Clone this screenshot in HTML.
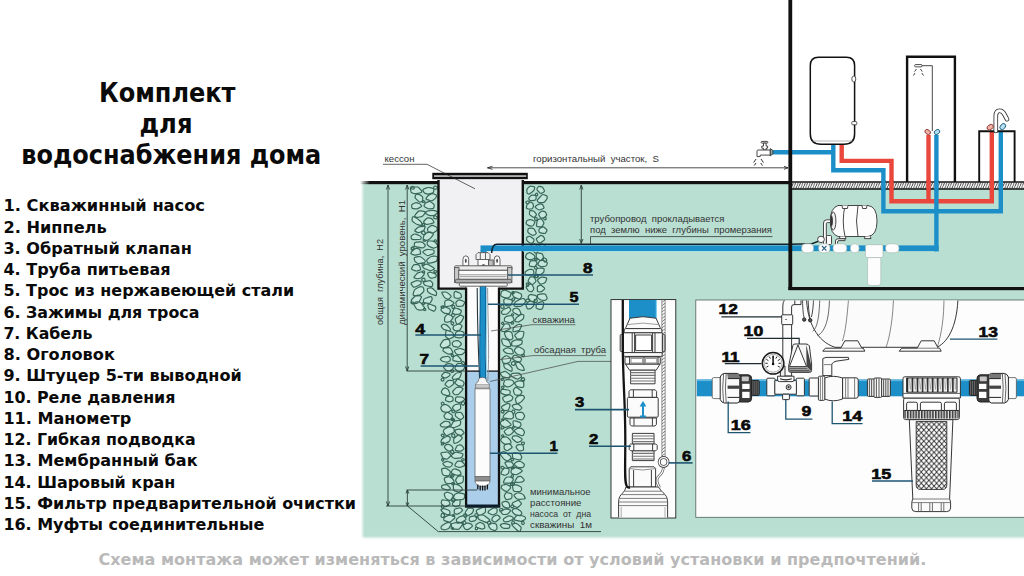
<!DOCTYPE html>
<html lang="ru"><head><meta charset="utf-8"><title>Комплект для водоснабжения дома</title>
<style>html,body{margin:0;padding:0;background:#fff;overflow:hidden}svg{display:block}</style></head>
<body>
<svg width="1024" height="576" viewBox="0 0 1024 576">
<rect width="1024" height="576" fill="#fff"/>
<!-- b_bg -->
<defs>
<filter id="blur2" x="-5%" y="-5%" width="110%" height="110%"><feGaussianBlur stdDeviation="1.3"/></filter>
<filter id="blur1" x="-5%" y="-50%" width="110%" height="200%"><feGaussianBlur stdDeviation="0.5"/></filter>
<clipPath id="gclip"><rect x="340" y="183" width="700" height="400"/></clipPath>
<pattern id="hatch" width="2.4" height="6" patternUnits="userSpaceOnUse">
<rect width="2.4" height="6" fill="#fff"/><path d="M-2.4 6L0 0M0 6L2.4 0M2.4 6L4.8 0M-1.2 9L1.2 3M1.2 3L3.6 -3" stroke="#333" stroke-width="0.65"/></pattern>
<pattern id="hatch2" width="4" height="3.2" patternUnits="userSpaceOnUse">
<rect width="4" height="3.2" fill="#fff"/><path d="M-1 4.2L5 -1M-1 1L1.5 -1.2M-1 7.4L5 2.2" stroke="#555" stroke-width="0.8"/></pattern>
<linearGradient id="lfade" x1="0" x2="1"><stop offset="0" stop-color="#111" stop-opacity="0"/><stop offset="1" stop-color="#111"/></linearGradient>
<pattern id="mesh" width="5.1" height="5.6" patternUnits="userSpaceOnUse" patternTransform="translate(916.2 421.6)">
<rect width="5.1" height="5.6" fill="#fff"/><path d="M0 0L5.1 5.6M5.1 0L0 5.6" stroke="#2e2e2e" stroke-width="0.85"/></pattern>
<pattern id="ribs" width="2.8" height="9" patternUnits="userSpaceOnUse" patternTransform="translate(904.2 410)"><rect width="2.8" height="9" fill="#e4e4e4"/><path d="M0.8 0.6V8.6" stroke="#222" stroke-width="1.4"/><path d="M0 0.5H2.8" stroke="#222" stroke-width="1"/></pattern>
<pattern id="ribs2" width="5.04" height="15" patternUnits="userSpaceOnUse" patternTransform="translate(906.6 378)"><rect width="5.04" height="15" fill="#f2f2f2"/><path d="M0.9 0V14.2" stroke="#1a1a1a" stroke-width="1.5"/><path d="M2.6 1L3.7 11.5L4.6 1" stroke="#8a8a8a" stroke-width="0.6" fill="none"/></pattern>
</defs>
<g clip-path="url(#gclip)"><rect x="362.6" y="170" width="680" height="367.6" fill="#b9dfd2" filter="url(#blur2)"/></g>
<rect x="360" y="181" width="10" height="3.2" fill="url(#lfade)"/>
<rect x="369.5" y="181" width="70" height="3.2" fill="#111"/>
<rect x="522" y="181" width="267" height="3.2" fill="#111"/>
<!-- b_well -->
<path d="M410.45 188.68Q410.23 187.29 411.12 187.22L412.76 187.1Q413.66 187.03 414.83 187.02L417.01 187Q418.18 186.99 419.22 188.13L421.14 190.24Q422.18 191.39 421.91 191.73L421.4 192.36Q421.13 192.7 419.48 192.97L416.44 193.47Q414.8 193.74 413.83 193.46L412.06 192.93Q411.1 192.64 410.87 191.25ZM412 186.4Q412.45 186.11 412.99 186.51L413.97 187.25Q414.5 187.66 414.33 188.03L414 188.72Q413.83 189.09 413.2 189.06L412.04 188.99Q411.41 188.95 411.23 188.51L410.88 187.68Q410.7 187.23 411.15 186.94ZM432.33 188.06Q433.84 188.32 433.78 189.42L433.68 191.47Q433.62 192.57 432.18 193L429.5 193.8Q428.05 194.23 427.07 193.93L425.26 193.38Q424.28 193.08 423.86 192.15L423.09 190.41Q422.68 189.48 424.07 188.92L426.63 187.88Q428.02 187.32 429.53 187.58ZM434.24 186.39Q434.47 185.94 434.85 185.98L435.56 186.04Q435.94 186.08 436.38 186.4L437.19 186.99Q437.62 187.31 437.35 187.81L436.84 188.74Q436.57 189.25 435.81 189.2L434.42 189.11Q433.67 189.07 433.64 188.7L433.61 188.03Q433.58 187.66 433.82 187.22ZM422.5 200.25Q422.35 201.41 421.65 201.63L420.36 202.05Q419.66 202.27 418.39 201.07L416.04 198.85Q414.77 197.65 415.1 196.75L415.7 195.09Q416.03 194.19 416.87 194.23L418.42 194.3Q419.26 194.34 420.21 195.02L421.98 196.28Q422.94 196.96 422.78 198.12ZM422.57 202.27Q422.44 202.19 422.42 201.85L422.38 201.23Q422.36 200.9 422.54 200.82L422.89 200.69Q423.07 200.61 423.39 200.68L423.97 200.8Q424.29 200.86 424.46 200.99L424.79 201.23Q424.96 201.36 424.89 201.56L424.76 201.93Q424.69 202.13 424.24 202.23L423.4 202.41Q422.95 202.52 422.82 202.43ZM427.09 199.57Q425.42 199.03 426.15 198.08L427.48 196.32Q428.2 195.37 429.23 194.88L431.14 193.98Q432.18 193.49 433.31 193.84L435.4 194.48Q436.53 194.83 436.42 195.6L436.21 197.02Q436.1 197.79 434.99 198.64L432.95 200.23Q431.84 201.08 430.17 200.55ZM411.65 205.59Q411.58 204.63 412.73 204.07L414.87 203.05Q416.02 202.5 417.04 202.87L418.92 203.54Q419.93 203.91 420.46 204.52L421.45 205.65Q421.98 206.26 420.66 207L418.22 208.36Q416.9 209.1 415.59 208.9L413.17 208.54Q411.86 208.34 411.79 207.38ZM429.83 208.85Q428.45 208.98 427.21 208.26L424.91 206.95Q423.67 206.23 424.13 205.32L424.98 203.64Q425.44 202.72 426.65 202.34L428.89 201.64Q430.1 201.25 431.2 202.1L433.23 203.66Q434.34 204.5 434.19 205.54L433.91 207.45Q433.76 208.49 432.38 208.61ZM418.56 217.23Q417.02 217.59 416.3 217.2L414.96 216.49Q414.24 216.1 415.44 214.66L417.65 212Q418.85 210.55 420.64 210.82L423.96 211.32Q425.75 211.59 425.03 212.79L423.69 215Q422.96 216.2 421.42 216.56ZM426.28 211.64Q426.56 211 428.36 210.82L431.68 210.48Q433.47 210.3 434.42 210.58L436.18 211.09Q437.13 211.37 437.21 211.85L437.36 212.72Q437.44 213.2 436.46 213.84L434.67 215.02Q433.69 215.66 432.52 215.64L430.36 215.61Q429.19 215.6 428.23 215.04L426.44 214.02Q425.48 213.47 425.76 212.83ZM420.17 220.98Q421.78 222.26 421.81 223.16L421.85 224.82Q421.87 225.71 420.41 225.32L417.72 224.61Q416.27 224.22 415.13 223.37L413.03 221.81Q411.89 220.96 412.03 219.83L412.3 217.73Q412.44 216.59 413.25 216.78L414.75 217.14Q415.56 217.33 417.18 218.61ZM424.21 225.83Q424.09 225.89 423.69 225.91L422.95 225.95Q422.55 225.97 422.47 225.76L422.34 225.37Q422.27 225.16 422.41 224.78L422.65 224.1Q422.78 223.73 422.96 223.63L423.29 223.45Q423.47 223.36 423.76 223.58L424.29 224Q424.58 224.23 424.57 224.61L424.56 225.31Q424.56 225.68 424.43 225.74ZM428.23 224.22Q426.06 224.71 425.32 223.95L423.96 222.56Q423.22 221.8 424.32 220.72L426.34 218.71Q427.43 217.63 428.62 217.91L430.81 218.43Q432 218.71 432.62 219.78L433.78 221.76Q434.4 222.84 432.23 223.32ZM433.7 217.41Q433.63 217 433.97 216.59L434.61 215.82Q434.96 215.41 435.59 215.89L436.74 216.78Q437.37 217.26 437.17 217.7L436.8 218.52Q436.6 218.96 435.9 218.86L434.6 218.69Q433.9 218.59 433.83 218.18ZM415.33 231.37Q414.19 230.84 415.35 229.76L417.49 227.77Q418.65 226.69 420.44 226.56L423.75 226.34Q425.54 226.22 425.1 227.34L424.29 229.41Q423.85 230.53 422.48 231.15L419.94 232.29Q418.57 232.91 417.43 232.37ZM430.6 225.94Q431.7 225.08 433.01 225.57L435.43 226.5Q436.74 227 436.9 227.85L437.18 229.42Q437.34 230.28 436.15 231.07L433.95 232.54Q432.76 233.33 431.49 232.94L429.16 232.2Q427.89 231.8 427.78 230.91L427.57 229.27Q427.46 228.38 428.56 227.52ZM411.09 237.08Q410.85 236.19 411.88 235.53L413.77 234.3Q414.8 233.64 416.45 234.37L419.51 235.73Q421.16 236.46 421.12 237.24L421.05 238.69Q421.01 239.47 418.61 239.51L414.17 239.58Q411.77 239.61 411.53 238.73ZM425.29 233.06Q425.67 233.83 425.3 234.23L424.63 234.96Q424.26 235.36 423.49 234.79L422.07 233.73Q421.31 233.16 421.54 232.76L421.98 232.01Q422.22 231.6 422.74 231.41L423.7 231.06Q424.22 230.87 424.6 231.64ZM432.83 233.58Q433.73 234.26 432.76 235.43L430.97 237.57Q430 238.73 429.24 239.17L427.84 239.99Q427.08 240.43 426 240.28L424.01 240.01Q422.94 239.86 423.18 238.7L423.62 236.57Q423.86 235.41 424.15 234.96L424.69 234.11Q424.99 233.66 426.35 233.13L428.88 232.15Q430.25 231.62 431.15 232.31ZM425.49 241.01Q425.43 241.22 425.06 241.27L424.38 241.36Q424.01 241.41 423.8 241.19L423.41 240.8Q423.2 240.59 423.26 240.4L423.37 240.04Q423.44 239.84 423.74 239.77L424.31 239.64Q424.62 239.57 424.89 239.79L425.38 240.19Q425.64 240.41 425.59 240.62ZM416.5 246.82Q414.13 246.37 414.25 245.31L414.45 243.35Q414.56 242.29 416.49 242.14L420.05 241.85Q421.98 241.7 422.94 242.68L424.72 244.48Q425.68 245.46 425.05 246.15L423.88 247.42Q423.25 248.11 420.88 247.66ZM411.61 248.92Q411.23 248.68 411.25 248.37L411.29 247.81Q411.31 247.5 411.81 247.38L412.73 247.15Q413.23 247.03 413.44 247.09L413.82 247.2Q414.02 247.26 413.94 247.72L413.8 248.55Q413.72 249 413.45 249.16L412.96 249.45Q412.69 249.61 412.31 249.36ZM437.48 245.43Q438.18 246.53 437.03 246.97L434.91 247.79Q433.75 248.24 432.69 247.87L430.73 247.18Q429.67 246.81 429.02 246.24L427.83 245.18Q427.18 244.61 427.22 243.67L427.28 241.94Q427.31 241 428.8 241.01L431.55 241.02Q433.03 241.03 433.67 241.36L434.84 241.96Q435.48 242.29 436.18 243.39ZM434.34 241.19Q434.03 240.89 434.2 240.61L434.53 240.1Q434.7 239.82 435.05 239.82L435.7 239.81Q436.06 239.81 436.2 240.02L436.45 240.4Q436.59 240.6 436.48 240.95L436.27 241.61Q436.16 241.96 435.92 241.98L435.46 242.03Q435.21 242.06 434.91 241.76ZM416.5 254.92Q414.98 255.27 413.85 254.85L411.75 254.07Q410.61 253.65 410.85 253.13L411.29 252.18Q411.53 251.66 412.62 250.73L414.63 249Q415.71 248.07 416.82 248.38L418.86 248.94Q419.97 249.25 420.08 250.09L420.28 251.64Q420.38 252.48 420.49 252.85L420.7 253.53Q420.81 253.9 419.29 254.26ZM413.92 247.91Q414.07 248.35 413.94 248.73L413.7 249.44Q413.57 249.83 413.34 250.06L412.93 250.5Q412.71 250.73 412.34 250.51L411.65 250.09Q411.28 249.86 411.29 249.42L411.3 248.6Q411.31 248.15 411.52 247.81L411.92 247.18Q412.13 246.84 412.48 246.79L413.12 246.71Q413.47 246.66 413.63 247.1ZM434.1 252.52Q434.1 253.46 432.35 254.11L429.13 255.3Q427.38 255.95 426.04 254.88L423.58 252.9Q422.24 251.83 423.36 251.19L425.42 250Q426.54 249.36 428.51 249.49L432.14 249.73Q434.1 249.86 434.1 250.79ZM423.99 259.41Q425.36 260.54 425.28 261.06L425.14 262.03Q425.06 262.55 423.3 262.87L420.04 263.45Q418.28 263.77 417.37 263.18L415.69 262.1Q414.79 261.51 414.6 260.47L414.26 258.55Q414.08 257.51 415.64 257.17L418.53 256.56Q420.09 256.22 421.46 257.34ZM433.37 262.4Q432.25 262.78 431.12 262.9L429.05 263.13Q427.92 263.25 427.54 262.46L426.82 260.99Q426.43 260.2 427.48 259.28L429.41 257.59Q430.46 256.67 431.64 256.48L433.82 256.14Q435 255.96 435.73 256.25L437.09 256.79Q437.82 257.08 437.5 258.18L436.91 260.21Q436.59 261.31 435.46 261.69ZM417.44 270.81Q416.19 271.21 414.87 270.68L412.43 269.72Q411.11 269.2 411.77 268.01L412.99 265.82Q413.66 264.64 415.07 264.64L417.67 264.63Q419.08 264.63 419.58 265.95L420.49 268.38Q420.99 269.7 419.74 270.09ZM423.65 265.54Q423.38 265.69 423.03 265.51L422.38 265.18Q422.03 265.01 422.11 264.6L422.26 263.85Q422.35 263.45 422.75 263.37L423.49 263.24Q423.89 263.17 424.13 263.42L424.58 263.88Q424.82 264.13 424.72 264.39L424.53 264.87Q424.42 265.13 424.15 265.28ZM433.16 267.5Q435.15 268.76 433.97 269.31L431.8 270.33Q430.63 270.88 428.88 270.23L425.66 269.04Q423.92 268.4 423.36 267.56L422.32 266.02Q421.75 265.18 423.25 264.85L426.02 264.25Q427.52 263.92 429.5 265.18ZM434.07 272.18Q433.68 271.86 433.9 271.51L434.3 270.86Q434.51 270.5 435.1 270.6L436.19 270.79Q436.78 270.88 436.67 271.31L436.48 272.08Q436.38 272.51 436.06 272.66L435.47 272.94Q435.16 273.1 434.77 272.78ZM416.48 274.17Q417.52 272.96 418.68 272.63L420.83 272.01Q421.99 271.68 422.71 272.17L424.03 273.07Q424.75 273.56 423.89 274.72L422.31 276.85Q421.45 278.01 420.31 278.23L418.2 278.64Q417.06 278.86 416.13 278.53L414.42 277.93Q413.5 277.61 414.55 276.4ZM422.1 272.21Q421.93 272.02 422.12 271.75L422.48 271.24Q422.67 270.97 423.12 270.97L423.97 270.97Q424.42 270.97 424.49 271.28L424.63 271.85Q424.7 272.16 424.62 272.37L424.48 272.76Q424.4 272.96 423.93 272.91L423.07 272.81Q422.6 272.75 422.43 272.56ZM434.79 273.78Q436.58 274.45 436.37 275.17L435.98 276.51Q435.77 277.24 434.73 277.51L432.81 278.02Q431.77 278.3 431.16 278.1L430.03 277.73Q429.41 277.52 428.87 276.46L427.87 274.48Q427.32 273.41 427.94 273.02L429.09 272.29Q429.7 271.89 431.49 272.56ZM420.05 281.12Q421.36 281.33 421.19 282.12L420.88 283.58Q420.71 284.37 418.95 285.22L415.7 286.77Q413.93 287.61 413.04 286.51L411.39 284.47Q410.5 283.37 412.01 282.62L414.8 281.24Q416.31 280.5 417.62 280.72ZM423.95 278.22Q424.36 278.15 424.6 278.6L425.05 279.43Q425.29 279.88 425.09 280.31L424.74 281.1Q424.54 281.53 423.93 281.43L422.81 281.26Q422.2 281.16 422.05 280.69L421.77 279.82Q421.62 279.35 421.92 279.12L422.47 278.68Q422.77 278.44 423.18 278.36ZM432.25 282.56Q432.97 283.33 432.73 284.26L432.3 285.98Q432.06 286.92 430.14 286.52L426.6 285.78Q424.68 285.39 424.25 284.54L423.45 282.99Q423.02 282.14 424.89 281.68L428.33 280.84Q430.19 280.38 430.91 281.15ZM414.42 295.6Q412.83 295.5 413.24 293.95L413.99 291.09Q414.4 289.54 415.93 288.76L418.75 287.31Q420.28 286.53 421.07 286.69L422.54 286.98Q423.34 287.14 423.54 288.21L423.91 290.2Q424.11 291.27 422.77 292.47L420.29 294.69Q418.95 295.89 417.36 295.79ZM430.12 287.88Q431.15 287.69 431.61 287.93L432.44 288.38Q432.9 288.63 433.87 289.56L435.67 291.28Q436.64 292.21 436.56 293.17L436.4 294.95Q436.31 295.91 434.93 295.42L432.37 294.51Q430.99 294.02 430.1 293.41L428.46 292.3Q427.58 291.7 427.47 290.85L427.29 289.29Q427.18 288.44 428.22 288.24ZM414.17 296.97Q415.1 296.02 415.81 295.74L417.13 295.22Q417.85 294.94 418.9 295.38L420.86 296.2Q421.92 296.64 421.14 298.07L419.7 300.71Q418.92 302.14 418.25 302.56L417.03 303.34Q416.37 303.77 414.94 303.68L412.3 303.5Q410.87 303.41 411.04 302.44L411.35 300.64Q411.53 299.67 412.45 298.72ZM411.63 302.32Q411.66 301.98 412.12 302.04L412.99 302.13Q413.46 302.19 413.58 302.49L413.82 303.04Q413.95 303.34 413.5 303.53L412.67 303.88Q412.22 304.07 412.05 303.86L411.73 303.48Q411.55 303.27 411.58 302.94ZM425.06 302.93Q423.38 302.68 423.45 301.69L423.57 299.87Q423.64 298.89 425.64 298.2L429.33 296.93Q431.34 296.24 431.61 297.02L432.12 298.47Q432.4 299.25 431.74 300.39L430.52 302.5Q429.86 303.65 428.18 303.39ZM423.94 306.8Q425.11 308.35 424.26 308.86L422.69 309.8Q421.84 310.31 420.58 310.14L418.24 309.85Q416.98 309.68 416.07 308.22L414.39 305.53Q413.47 304.07 414.12 303.44L415.3 302.29Q415.95 301.66 417.16 301.86L419.41 302.22Q420.62 302.41 421.79 303.95ZM423.45 304.33Q423.02 304.42 422.81 304.07L422.43 303.43Q422.22 303.08 422.51 302.85L423.06 302.42Q423.35 302.19 423.65 302.3L424.2 302.5Q424.49 302.61 424.53 302.99L424.61 303.69Q424.65 304.07 424.22 304.16ZM428.46 304.31Q428.75 303.95 430.54 304.54L433.84 305.64Q435.62 306.24 435.69 306.81L435.82 307.88Q435.9 308.45 435.47 309.24L434.7 310.68Q434.28 311.47 432.9 310.87L430.37 309.76Q429 309.16 428.64 308.17L427.97 306.35Q427.6 305.36 427.9 304.99ZM424.98 308.44Q425.36 308.43 425.5 308.85L425.77 309.63Q425.92 310.05 425.7 310.13L425.31 310.28Q425.1 310.36 424.82 310.42L424.31 310.53Q424.04 310.58 423.81 310.26L423.38 309.66Q423.15 309.34 423.34 309.11L423.7 308.7Q423.9 308.47 424.28 308.46ZM527.49 193.43Q526.92 193.11 526.89 192.09L526.85 190.2Q526.82 189.18 527.6 188.37L529.05 186.87Q529.83 186.06 531.16 186.24L533.6 186.56Q534.93 186.74 534.71 187.7L534.3 189.48Q534.07 190.45 532.79 191.46L530.41 193.33Q529.13 194.34 528.55 194.02ZM544.28 190.31Q544.87 191.44 543.79 192.08L541.79 193.26Q540.71 193.9 539.61 192.71L537.58 190.52Q536.48 189.33 537.06 188.51L538.12 187.01Q538.7 186.2 539.72 186.43L541.59 186.87Q542.6 187.1 543.19 188.23ZM531.42 200.56Q529.85 200.65 529.51 200.04L528.87 198.9Q528.53 198.29 529.29 197.46L530.69 195.94Q531.46 195.11 532.7 195.22L535 195.43Q536.24 195.54 536.15 196.78L535.98 199.07Q535.89 200.31 534.32 200.4ZM539.58 197.49Q540.49 196.44 541.07 195.87L542.15 194.81Q542.73 194.24 543.94 194.72L546.17 195.61Q547.38 196.09 547.28 196.83L547.1 198.19Q547.01 198.92 546.25 199.89L544.84 201.66Q544.08 202.63 542.69 202.62L540.13 202.6Q538.75 202.59 538.29 202.05L537.45 201.03Q537 200.49 537.91 199.43ZM537.43 193.68Q537.65 193.97 537.68 194.31L537.72 194.93Q537.74 195.27 537.52 195.41L537.1 195.66Q536.87 195.8 536.57 195.61L536.01 195.28Q535.71 195.09 535.62 194.81L535.45 194.27Q535.36 193.99 535.73 193.69L536.41 193.13Q536.77 192.84 537 193.13ZM533.41 205.16Q533.71 205.89 533.32 206.7L532.62 208.2Q532.23 209.01 531.18 209.02L529.22 209.03Q528.17 209.04 527.67 208.8L526.74 208.37Q526.24 208.13 526.47 207.05L526.89 205.05Q527.12 203.96 527.94 203.41L529.47 202.4Q530.3 201.85 530.89 202.17L531.98 202.77Q532.58 203.09 532.87 203.82ZM527.2 203.9Q526.85 203.9 526.54 203.48L525.97 202.7Q525.65 202.28 525.95 201.94L526.51 201.3Q526.81 200.96 527.39 201.04L528.47 201.18Q529.06 201.26 529.17 201.6L529.37 202.23Q529.49 202.57 529.15 202.92L528.53 203.56Q528.19 203.9 527.84 203.9ZM536.63 205.42Q537.27 204.86 538.01 204.6L539.38 204.11Q540.12 203.84 540.79 204.05L542.04 204.44Q542.72 204.65 543.12 205.51L543.85 207.1Q544.25 207.96 543.32 208.42L541.6 209.26Q540.67 209.71 540.08 209.75L539 209.81Q538.41 209.85 537.47 209.11L535.75 207.75Q534.82 207.01 535.45 206.45ZM529.55 211.55Q529.62 210.44 530.75 210.61L532.84 210.92Q533.97 211.08 534.69 212.01L536.01 213.71Q536.73 214.64 536.06 215.42L534.83 216.87Q534.17 217.65 532.92 216.89L530.62 215.48Q529.37 214.72 529.44 213.61ZM538.96 215.13Q538.35 214.02 539.24 213.19L540.89 211.67Q541.79 210.85 542.74 211.1L544.5 211.57Q545.46 211.82 545.83 212.75L546.52 214.47Q546.89 215.4 546.07 216.03L544.56 217.19Q543.74 217.82 542.95 217.94L541.5 218.17Q540.71 218.3 540.09 217.19ZM544.13 219.51Q543.85 219.32 543.8 218.97L543.68 218.32Q543.62 217.97 544.01 217.7L544.71 217.2Q545.09 216.93 545.3 217.14L545.68 217.52Q545.89 217.73 546.01 218.07L546.24 218.69Q546.36 219.02 545.99 219.3L545.29 219.79Q544.92 220.07 544.64 219.87ZM530.85 226.15Q530.07 226.24 529 225.62L527.03 224.48Q525.96 223.86 526.16 223L526.53 221.41Q526.74 220.54 527.81 220.23L529.8 219.67Q530.88 219.36 532.02 219.96L534.12 221.05Q535.25 221.65 534.69 222.75L533.64 224.79Q533.08 225.9 532.3 225.99ZM536.24 220.41Q535.92 220.64 535.61 220.35L535.04 219.8Q534.73 219.5 534.71 219.11L534.69 218.39Q534.68 218 535.01 217.84L535.63 217.52Q535.96 217.36 536.28 217.51L536.86 217.8Q537.17 217.95 537.17 218.42L537.15 219.28Q537.15 219.75 536.83 219.98ZM537.68 226.64Q536.26 226.49 536.56 224.71L537.1 221.44Q537.39 219.67 538.44 219.45L540.37 219.03Q541.42 218.81 542.14 219.86L543.47 221.81Q544.19 222.87 543.55 223.96L542.36 225.99Q541.71 227.09 540.3 226.93ZM531.12 228.21Q532.19 228.15 532.66 228.39L533.54 228.84Q534.02 229.09 534.67 230.17L535.88 232.19Q536.53 233.28 536.08 233.67L535.25 234.41Q534.8 234.81 534.21 234.99L533.12 235.32Q532.53 235.5 531.26 234.71L528.93 233.24Q527.67 232.44 527.77 231.39L527.97 229.45Q528.08 228.41 529.15 228.34ZM545.61 232.8Q545 233.72 543.46 233.39L540.62 232.79Q539.08 232.46 539.03 231.52L538.93 229.79Q538.88 228.86 540.05 228.25L542.22 227.12Q543.39 226.5 544.42 227.46L546.32 229.22Q547.35 230.17 546.74 231.09ZM531.05 243.22Q530.33 243.37 529.37 242.63L527.6 241.26Q526.64 240.52 526.65 239.63L526.67 237.99Q526.68 237.11 527.47 236.83L528.92 236.33Q529.7 236.05 530.9 236.94L533.1 238.58Q534.3 239.47 533.98 240.34L533.4 241.93Q533.08 242.79 532.37 242.94ZM542.77 236.1Q543.48 236.41 543.85 237.27L544.54 238.86Q544.91 239.72 543.69 240.59L541.43 242.17Q540.21 243.04 539.66 242.92L538.64 242.71Q538.09 242.59 537.55 241.61L536.55 239.81Q536.01 238.84 537.24 237.9L539.52 236.17Q540.75 235.24 541.46 235.54ZM530.56 246.29Q531.08 245.45 531.96 245L533.59 244.17Q534.47 243.73 535.06 244.23L536.13 245.16Q536.72 245.66 536.83 246.47L537.05 247.96Q537.17 248.77 536.62 249.21L535.62 250.02Q535.08 250.46 534.19 250.6L532.54 250.85Q531.65 250.99 530.98 250.4L529.74 249.3Q529.07 248.7 529.59 247.86ZM536.84 250Q537.21 250.17 537.22 250.88L537.24 252.17Q537.25 252.87 536.79 252.99L535.94 253.19Q535.49 253.3 535.1 252.89L534.38 252.13Q533.99 251.72 534.11 251.36L534.34 250.69Q534.46 250.33 534.81 250.11L535.44 249.71Q535.79 249.49 536.16 249.67ZM538.6 247.88Q537.72 246.76 538.76 245.97L540.68 244.5Q541.72 243.71 542.79 244.24L544.78 245.21Q545.85 245.74 545.85 246.98L545.85 249.27Q545.85 250.51 544.62 250.65L542.34 250.91Q541.11 251.05 540.23 249.93ZM534.75 257.52Q534.75 258.16 533.92 258.56L532.38 259.29Q531.54 259.69 530.61 259.66L528.87 259.59Q527.94 259.55 527.23 258.93L525.94 257.78Q525.24 257.16 525.64 256.23L526.38 254.53Q526.78 253.6 527.62 253.32L529.16 252.79Q529.99 252.5 531.22 253.33L533.5 254.87Q534.73 255.7 534.74 256.34ZM537.08 259.8Q537.17 260.07 536.78 260.22L536.07 260.48Q535.68 260.62 535.37 260.34L534.8 259.81Q534.49 259.52 534.77 259.24L535.28 258.72Q535.55 258.44 535.89 258.59L536.51 258.87Q536.84 259.02 536.93 259.3ZM536.34 253.97Q536.43 252.73 537.93 252.94L540.69 253.34Q542.18 253.55 542.57 254.56L543.28 256.43Q543.66 257.45 542.85 258.3L541.36 259.87Q540.55 260.73 539.39 259.89L537.24 258.34Q536.08 257.51 536.17 256.26ZM529.76 262.42Q529.99 261.12 531.34 260.96L533.83 260.67Q535.18 260.51 535.73 261.2L536.76 262.47Q537.32 263.16 536.67 264.13L535.47 265.93Q534.83 266.9 533.34 266.7L530.6 266.33Q529.12 266.13 529.34 264.83ZM536.92 267.37Q537.29 267.87 537.14 268.26L536.86 268.97Q536.71 269.35 536.14 269.21L535.09 268.95Q534.52 268.8 534.53 268.34L534.53 267.48Q534.53 267.01 534.88 266.74L535.53 266.23Q535.88 265.95 536.24 266.45ZM546.67 265.16Q546.35 266.02 545.01 266.25L542.53 266.68Q541.19 266.91 540.27 266.28L538.56 265.13Q537.63 264.5 538.11 263.54L539 261.77Q539.48 260.82 540.46 260.65L542.25 260.35Q543.23 260.19 544.36 260.84L546.46 262.04Q547.6 262.69 547.27 263.56ZM545.62 261.91Q545.25 262.3 544.86 262.03L544.16 261.54Q543.77 261.27 543.56 260.79L543.18 259.89Q542.97 259.41 543.33 258.94L543.99 258.07Q544.35 257.6 544.96 258.11L546.08 259.07Q546.68 259.58 546.68 259.9L546.68 260.49Q546.68 260.81 546.3 261.2ZM532.51 274.51Q531.95 274.77 530.31 274.83L527.27 274.96Q525.63 275.03 525.43 274.25L525.04 272.83Q524.84 272.05 525.68 271.49L527.23 270.45Q528.07 269.88 528.66 269.7L529.75 269.38Q530.35 269.2 531.16 269.41L532.65 269.79Q533.46 270 533.62 270.98L533.93 272.79Q534.09 273.77 533.54 274.03ZM536.49 274.48Q536.94 274.48 537.07 274.77L537.32 275.32Q537.46 275.62 537.46 276.04L537.47 276.81Q537.48 277.23 537.19 277.36L536.65 277.6Q536.37 277.73 535.74 277.67L534.59 277.55Q533.96 277.48 534 277.1L534.07 276.4Q534.11 276.02 534.4 275.62L534.94 274.89Q535.22 274.5 535.67 274.49ZM536.29 270.08Q536.53 268.66 537.49 268.52L539.25 268.25Q540.21 268.1 541.25 268.19L543.18 268.36Q544.22 268.45 544.12 269.48L543.93 271.39Q543.83 272.42 542.86 273.04L541.05 274.19Q540.08 274.81 538.91 274.63L536.76 274.28Q535.6 274.1 535.84 272.69ZM529.49 278.09Q530.09 276.92 531.08 276.94L532.91 276.97Q533.9 276.99 534.53 278.07L535.68 280.06Q536.3 281.14 535.3 282.09L533.44 283.85Q532.43 284.8 531.22 283.92L528.99 282.31Q527.78 281.43 528.38 280.26ZM537.94 281.15Q537.14 279.98 538.18 279.16L540.1 277.66Q541.14 276.84 542.68 277.12L545.52 277.62Q547.06 277.89 546.59 279.18L545.72 281.57Q545.26 282.86 543.94 283.28L541.51 284.05Q540.2 284.46 539.41 283.3ZM537.95 277.22Q537.76 277.56 537.22 277.58L536.22 277.63Q535.68 277.66 535.45 277.54L535.03 277.33Q534.8 277.21 534.98 276.78L535.33 275.97Q535.52 275.53 535.74 275.34L536.14 274.99Q536.36 274.8 536.86 274.96L537.78 275.25Q538.28 275.4 538.33 275.62L538.43 276.02Q538.49 276.24 538.3 276.58ZM532.35 291.16Q531.73 292.04 530.86 291.77L529.26 291.28Q528.39 291.02 527.75 290L526.56 288.13Q525.92 287.12 526.36 286.48L527.16 285.29Q527.59 284.65 528.67 284.48L530.68 284.17Q531.76 284 532.37 285.21L533.5 287.44Q534.11 288.66 533.5 289.53ZM526.32 284.64Q526.09 284.06 526.32 283.72L526.72 283.09Q526.95 282.75 527.34 282.86L528.06 283.05Q528.46 283.16 528.55 283.7L528.72 284.69Q528.81 285.24 528.61 285.56L528.23 286.16Q528.03 286.48 527.75 286.43L527.25 286.33Q526.97 286.28 526.75 285.7ZM537.27 287.87Q537.21 286.52 538.08 286.09L539.69 285.3Q540.56 284.87 541.76 285.8L543.98 287.52Q545.18 288.45 544.18 289.35L542.32 291.03Q541.32 291.94 540.31 291.88L538.45 291.76Q537.45 291.7 537.39 290.36ZM536.83 297.33Q537.21 298.06 536.44 298.91L535.03 300.47Q534.26 301.32 533.38 301.4L531.75 301.53Q530.86 301.61 530.09 300.44L528.67 298.29Q527.9 297.13 528.39 296.45L529.29 295.2Q529.78 294.52 531.34 294.71L534.21 295.07Q535.77 295.27 536.14 295.99ZM527.29 302.15Q526.82 302.16 526.52 301.75L525.97 300.98Q525.68 300.57 525.96 300.22L526.47 299.58Q526.75 299.23 527.22 299.13L528.08 298.95Q528.54 298.85 528.81 299.48L529.3 300.64Q529.57 301.26 529.33 301.48L528.89 301.89Q528.65 302.12 528.18 302.13ZM546.02 299.87Q545.54 300.38 544.33 300.33L542.08 300.23Q540.87 300.18 540.04 299.55L538.52 298.38Q537.7 297.74 537.58 296.98L537.34 295.57Q537.22 294.81 538.34 294.55L540.42 294.06Q541.55 293.8 542.54 293.84L544.37 293.91Q545.37 293.94 545.89 295.11L546.85 297.26Q547.37 298.43 546.9 298.93ZM532.99 302.07Q533.85 302.43 534.01 303.01L534.32 304.09Q534.48 304.68 533.66 305.65L532.13 307.44Q531.31 308.42 530.34 308.61L528.55 308.96Q527.58 309.15 527.14 308.18L526.33 306.38Q525.88 305.41 526.4 304.45L527.36 302.67Q527.88 301.71 528.58 301.54L529.86 301.22Q530.55 301.05 531.41 301.4ZM536.39 302.2Q536.05 302.49 535.71 302.45L535.09 302.38Q534.76 302.35 534.6 301.88L534.32 301.02Q534.17 300.55 534.28 300.23L534.48 299.64Q534.59 299.32 535.08 299.35L535.99 299.39Q536.49 299.41 536.68 299.52L537.02 299.72Q537.21 299.83 537.25 300.23L537.34 300.98Q537.38 301.39 537.03 301.67ZM541.01 301.93Q542.62 301.37 542.96 301.81L543.59 302.62Q543.93 303.06 543.54 304.62L542.81 307.48Q542.42 309.03 541.65 309.15L540.24 309.36Q539.47 309.48 538.56 309.12L536.87 308.46Q535.96 308.1 536.09 306.91L536.33 304.72Q536.45 303.53 538.06 302.97ZM442.16 293.58Q441.34 292.09 442.71 292.06L445.26 292Q446.64 291.97 447.92 293.09L450.29 295.17Q451.57 296.29 450.74 297.09L449.2 298.57Q448.36 299.37 447.36 298.96L445.5 298.21Q444.49 297.8 443.67 296.32ZM459.52 292.98Q460.92 293.59 461.1 294.64L461.42 296.56Q461.59 297.6 460.45 297.83L458.34 298.24Q457.19 298.47 456.4 298.23L454.94 297.79Q454.15 297.55 454.11 296.25L454.04 293.85Q454 292.54 454.39 292.2L455.13 291.56Q455.52 291.22 456.93 291.84ZM452.08 304.95Q451.29 305.63 449.62 305.99L446.55 306.65Q444.89 307.01 444.83 305.38L444.72 302.39Q444.67 300.77 445.89 300.47L448.16 299.92Q449.39 299.62 450.67 300.5L453.05 302.12Q454.33 303 453.54 303.69ZM442.87 308.06Q442.58 308.19 442.23 308L441.6 307.65Q441.26 307.45 441.34 307.11L441.48 306.47Q441.56 306.13 441.98 306.04L442.74 305.87Q443.16 305.78 443.44 305.97L443.96 306.32Q444.24 306.52 444.1 306.82L443.85 307.39Q443.72 307.69 443.42 307.82ZM457.88 300.35Q458.67 299.62 460.32 300.19L463.36 301.25Q465.01 301.82 464.48 302.97L463.51 305.09Q462.98 306.24 461.32 306.27L458.25 306.33Q456.59 306.36 456.34 305.34L455.89 303.45Q455.64 302.43 456.43 301.7ZM454.27 307.82Q454.1 308.24 453.71 308.26L452.99 308.28Q452.6 308.3 452.41 308.16L452.07 307.89Q451.89 307.75 451.93 307.42L452.02 306.81Q452.07 306.48 452.23 306.2L452.52 305.7Q452.67 305.43 453.07 305.46L453.81 305.52Q454.22 305.56 454.36 305.83L454.62 306.33Q454.77 306.6 454.59 307.03ZM448.77 308.52Q449.98 309.12 450.13 309.63L450.4 310.57Q450.55 311.08 450.14 311.81L449.38 313.15Q448.96 313.87 447.72 313.71L445.43 313.42Q444.18 313.26 443.3 312.52L441.65 311.14Q440.76 310.39 441.05 309.74L441.58 308.53Q441.86 307.88 442.76 307.6L444.42 307.1Q445.32 306.82 446.53 307.42ZM442.64 306.18Q443 306.22 443.23 306.47L443.66 306.95Q443.9 307.2 443.87 307.47L443.81 307.97Q443.78 308.24 443.54 308.25L443.08 308.27Q442.84 308.29 442.45 308.22L441.74 308.08Q441.35 308.01 441.24 307.69L441.04 307.09Q440.93 306.76 441.11 306.58L441.44 306.24Q441.61 306.06 441.97 306.1ZM453.89 314.04Q452.53 313.88 452.49 313.38L452.42 312.45Q452.39 311.95 452.97 310.91L454.05 309Q454.63 307.96 455.25 308.07L456.39 308.27Q457 308.38 458.2 308.89L460.42 309.83Q461.62 310.34 461.33 311.21L460.79 312.8Q460.5 313.66 459.79 313.88L458.48 314.28Q457.77 314.5 456.4 314.34ZM453.71 316.64Q453.3 317.09 452.89 316.86L452.13 316.44Q451.71 316.21 451.61 316L451.42 315.6Q451.31 315.39 451.59 314.86L452.09 313.88Q452.37 313.35 452.61 313.32L453.07 313.26Q453.32 313.23 453.76 313.6L454.55 314.3Q454.99 314.68 454.96 314.86L454.9 315.2Q454.87 315.38 454.46 315.82ZM450.99 320.58Q450.17 321.58 449.28 321.78L447.62 322.15Q446.72 322.35 446.15 322.15L445.11 321.79Q444.54 321.6 444.57 320.42L444.62 318.24Q444.64 317.06 445.4 316.3L446.81 314.9Q447.57 314.14 448.37 314.42L449.87 314.95Q450.68 315.23 451.36 315.88L452.62 317.08Q453.3 317.73 452.49 318.73ZM457.9 323.98Q456.76 324.56 456.27 323.08L455.37 320.37Q454.88 318.9 456.29 317.85L458.91 315.91Q460.33 314.86 461.3 315.35L463.09 316.25Q464.06 316.74 463.3 318.19L461.9 320.87Q461.15 322.33 460.01 322.91ZM449.99 330.61Q449.75 331.16 448.14 330.73L445.18 329.94Q443.57 329.51 442.88 328.64L441.61 327.02Q440.92 326.14 441.62 325.55L442.89 324.46Q443.59 323.86 444.46 324.21L446.07 324.86Q446.95 325.22 447.91 326.21L449.7 328.05Q450.67 329.04 450.43 329.59ZM452.75 324.88Q452.5 325.3 452.12 324.89L451.41 324.13Q451.02 323.72 451.02 323.35L451.02 322.66Q451.02 322.28 451.25 322.05L451.66 321.63Q451.89 321.4 452.37 321.78L453.25 322.5Q453.73 322.88 453.66 323.09L453.53 323.46Q453.47 323.67 453.21 324.09ZM453.45 329.25Q452.92 328.69 453.11 327.96L453.46 326.6Q453.65 325.86 455.15 325.31L457.93 324.3Q459.43 323.76 460.19 324.32L461.61 325.36Q462.38 325.92 461.63 327.12L460.24 329.34Q459.49 330.54 458.32 330.62L456.16 330.76Q454.99 330.84 454.45 330.28ZM453.76 335.58Q454.07 336.67 452.81 337.35L450.48 338.58Q449.22 339.26 448.19 338.57L446.3 337.31Q445.27 336.63 445.48 334.89L445.87 331.69Q446.08 329.95 447.85 330.6L451.1 331.81Q452.87 332.46 453.18 333.56ZM462.3 331.59Q463.35 331.89 463.57 332.31L463.98 333.09Q464.21 333.51 463.86 334.52L463.21 336.38Q462.85 337.38 461.75 337.52L459.71 337.78Q458.6 337.91 457.58 337.69L455.7 337.27Q454.68 337.05 454.99 335.79L455.58 333.46Q455.89 332.2 456.79 331.82L458.44 331.12Q459.34 330.74 460.38 331.04ZM442.58 341.19Q443.51 339.73 444.59 339.6L446.59 339.37Q447.67 339.25 448.22 339.56L449.24 340.13Q449.79 340.45 449.88 341.68L450.06 343.95Q450.15 345.18 449.33 345.62L447.83 346.44Q447.01 346.88 445.77 347.21L443.47 347.8Q442.23 348.13 441.63 347.41L440.52 346.07Q439.92 345.35 440.86 343.89ZM459.48 346.37Q458.65 347.26 457.28 347.06L454.73 346.69Q453.35 346.49 453 345.69L452.36 344.21Q452.02 343.42 452.41 342.83L453.14 341.76Q453.53 341.18 454.79 341L457.11 340.68Q458.37 340.5 459.26 341.37L460.91 342.97Q461.81 343.84 460.99 344.73ZM449.73 354.11Q448.48 354.5 446.98 353.57L444.21 351.84Q442.7 350.91 443.04 350.11L443.66 348.63Q443.99 347.83 445.64 347.79L448.7 347.71Q450.35 347.67 451.12 349.06L452.53 351.62Q453.29 353.01 452.04 353.4ZM454.68 351.47Q454.02 350.38 455.64 349.8L458.63 348.75Q460.25 348.17 461.77 348.83L464.58 350.04Q466.1 350.69 465.09 351.73L463.22 353.65Q462.2 354.69 460.74 354.66L458.03 354.6Q456.57 354.57 455.9 353.48ZM440.63 359.69Q440.19 359.17 440.81 358.6L441.96 357.55Q442.57 356.98 444.05 356.81L446.78 356.5Q448.25 356.33 448.81 356.79L449.82 357.63Q450.38 358.08 450.3 358.8L450.16 360.11Q450.08 360.83 449.26 361.23L447.75 361.96Q446.93 362.36 445.61 362.04L443.19 361.46Q441.88 361.14 441.44 360.63ZM453.49 355.63Q453.59 355.96 453.25 356.15L452.62 356.5Q452.28 356.69 452.03 356.54L451.56 356.27Q451.31 356.13 451.31 355.72L451.3 354.96Q451.29 354.55 451.78 354.58L452.7 354.64Q453.19 354.68 453.3 355.01ZM456.08 355.5Q457 355.16 458.2 356.42L460.42 358.75Q461.62 360.02 461.15 360.51L460.29 361.42Q459.83 361.91 457.92 361.57L454.4 360.93Q452.49 360.59 452.73 359.52L453.19 357.54Q453.44 356.48 454.37 356.13ZM461.29 363.53Q461.12 363.33 461.24 362.99L461.46 362.37Q461.58 362.04 461.95 361.82L462.63 361.42Q463.01 361.2 463.36 361.58L464.02 362.28Q464.38 362.66 464.5 363.01L464.71 363.67Q464.83 364.02 464.58 364.26L464.12 364.71Q463.88 364.96 463.33 364.74L462.33 364.34Q461.79 364.13 461.61 363.92ZM452.27 364.54Q453.24 364.9 453.28 365.83L453.35 367.53Q453.39 368.46 452.45 369.12L450.71 370.35Q449.76 371.01 448.93 370.98L447.41 370.91Q446.58 370.87 445.71 369.91L444.11 368.12Q443.24 367.15 444.06 366.32L445.58 364.77Q446.41 363.93 447.21 363.82L448.7 363.63Q449.5 363.53 450.47 363.89ZM453.09 372.14Q452.91 372.33 452.5 372.34L451.73 372.37Q451.32 372.39 451.16 372.01L450.86 371.31Q450.7 370.93 450.82 370.81L451.04 370.6Q451.16 370.48 451.43 370.21L451.94 369.71Q452.21 369.44 452.56 369.65L453.21 370.04Q453.56 370.26 453.57 370.61L453.58 371.27Q453.58 371.62 453.41 371.81ZM458.54 371.37Q457.8 371.22 456.95 370.5L455.38 369.17Q454.54 368.44 455.15 367.2L456.29 364.92Q456.9 363.68 458.05 363.61L460.18 363.5Q461.33 363.44 462.25 363.87L463.95 364.67Q464.87 365.11 464.7 366.1L464.39 367.94Q464.22 368.94 463.29 369.68L461.58 371.05Q460.65 371.79 459.91 371.64ZM447.98 372.79Q449.31 372.96 449.59 373.54L450.1 374.6Q450.38 375.17 449.16 375.98L446.91 377.46Q445.69 378.26 444.49 377.73L442.27 376.75Q441.07 376.22 441.88 375.2L443.38 373.33Q444.19 372.31 445.52 372.48ZM455.01 379.24Q453.38 379.59 453 379.08L452.28 378.14Q451.9 377.64 453.08 376.4L455.25 374.13Q456.43 372.9 457.8 372.75L460.34 372.47Q461.71 372.32 461.18 373.86L460.19 376.7Q459.66 378.24 458.03 378.59ZM452.49 380.61Q454.03 380.71 453.83 381.7L453.48 383.52Q453.29 384.51 452.13 385.34L449.99 386.87Q448.84 387.7 447.73 386.86L445.68 385.29Q444.58 384.44 445.5 383.37L447.2 381.39Q448.13 380.32 449.66 380.42ZM443.05 380.95Q442.69 381.28 442.4 381.1L441.86 380.76Q441.57 380.57 441.42 380.34L441.13 379.92Q440.98 379.69 441.19 379.36L441.59 378.76Q441.8 378.44 442.04 378.28L442.47 377.98Q442.71 377.81 443 378L443.52 378.34Q443.8 378.53 443.87 378.91L444 379.62Q444.07 380.01 443.71 380.34ZM461.56 380.49Q463.07 381.03 463.37 381.65L463.94 382.79Q464.24 383.4 463.92 384.11L463.32 385.41Q463 386.12 461.69 386.02L459.28 385.83Q457.98 385.72 457.12 385.04L455.53 383.79Q454.68 383.11 455 382.59L455.6 381.63Q455.93 381.11 456.28 380.56L456.92 379.53Q457.27 378.97 458.78 379.51ZM442.36 389.68Q442.77 388.96 443.39 388.66L444.54 388.1Q445.16 387.79 445.96 388.22L447.43 389.02Q448.23 389.45 448.74 390.74L449.67 393.13Q450.17 394.42 449.52 394.77L448.31 395.41Q447.65 395.76 446.3 395.35L443.8 394.59Q442.45 394.18 442.12 393.54L441.51 392.37Q441.18 391.74 441.6 391.02ZM459.74 393.08Q458.43 394.57 457.48 394.63L455.73 394.73Q454.78 394.79 454.11 394.03L452.87 392.62Q452.2 391.86 453.27 390.75L455.24 388.68Q456.3 387.57 457.31 387.45L459.17 387.22Q460.18 387.1 461.04 387.55L462.62 388.38Q463.48 388.83 462.16 390.32ZM450.38 401.7Q449.46 402 448.44 401.63L446.54 400.95Q445.51 400.57 445.57 399.86L445.68 398.56Q445.73 397.85 446.11 397.51L446.81 396.88Q447.19 396.54 448.35 396.44L450.47 396.27Q451.63 396.18 452.01 396.7L452.73 397.67Q453.11 398.19 453.08 398.88L453.02 400.14Q452.99 400.83 452.07 401.14ZM461.05 396.99Q462.89 397.06 463.46 397.77L464.5 399.08Q465.06 399.79 463.68 400.59L461.14 402.06Q459.76 402.86 458.58 402.45L456.41 401.69Q455.24 401.29 455.39 400.11L455.67 397.94Q455.83 396.77 457.66 396.85ZM463.85 401.99Q464.52 402.09 464.6 402.49L464.74 403.23Q464.82 403.64 464.38 404.11L463.56 404.99Q463.12 405.47 462.6 405.04L461.64 404.24Q461.12 403.81 461.33 403.26L461.72 402.25Q461.93 401.71 462.6 401.81ZM441.01 409Q440.55 408.11 440.89 407.44L441.52 406.18Q441.86 405.51 442.74 405.2L444.38 404.63Q445.27 404.32 446.04 404.67L447.46 405.33Q448.23 405.68 449.19 406.7L450.96 408.57Q451.92 409.59 450.88 410.36L448.97 411.8Q447.93 412.58 446.48 412.31L443.8 411.81Q442.35 411.54 441.88 410.65ZM443.72 404.39Q443.52 404.79 443.32 404.94L442.94 405.21Q442.73 405.35 442.38 405.02L441.73 404.41Q441.37 404.08 441.37 403.71L441.36 403.03Q441.35 402.66 441.72 402.5L442.4 402.22Q442.77 402.06 443.16 402.37L443.88 402.94Q444.27 403.24 444.08 403.65ZM458.72 403.87Q460.18 403.54 460.38 404.92L460.75 407.47Q460.95 408.85 459.55 409.55L456.95 410.86Q455.55 411.57 454.67 410.61L453.05 408.84Q452.17 407.88 452.8 407.08L453.95 405.6Q454.57 404.81 456.03 404.48ZM453.21 410.18Q453.58 410.11 453.85 410.41L454.34 410.95Q454.6 411.25 454.61 411.42L454.63 411.74Q454.63 411.91 454.29 412.14L453.66 412.57Q453.32 412.8 453.1 412.75L452.69 412.68Q452.47 412.63 452.29 412.23L451.94 411.47Q451.75 411.07 451.85 410.89L452.04 410.57Q452.14 410.39 452.52 410.32ZM446.26 412.74Q447.15 411.75 448.61 412.74L451.29 414.56Q452.75 415.54 452.33 416.66L451.55 418.73Q451.14 419.85 449.61 419.6L446.79 419.15Q445.26 418.9 444.86 418.04L444.12 416.44Q443.72 415.57 444.62 414.58ZM451.83 418.14Q452.11 418.04 452.4 418.24L452.92 418.62Q453.21 418.82 453.33 418.95L453.56 419.18Q453.68 419.31 453.48 419.6L453.11 420.13Q452.9 420.42 452.61 420.48L452.08 420.6Q451.79 420.66 451.62 420.41L451.31 419.94Q451.15 419.69 451.12 419.36L451.07 418.76Q451.05 418.43 451.32 418.33ZM463.32 416.04Q464.01 417.36 463.11 418.01L461.45 419.21Q460.54 419.86 459.17 418.9L456.64 417.12Q455.27 416.15 455.29 415.28L455.33 413.68Q455.35 412.81 456.91 412.67L459.79 412.42Q461.36 412.28 462.05 413.6ZM453.66 420.51Q453.34 420.75 453.07 420.7L452.58 420.6Q452.32 420.55 452.28 420.32L452.21 419.91Q452.17 419.69 452.23 419.32L452.34 418.64Q452.4 418.27 452.58 418.21L452.92 418.12Q453.1 418.06 453.41 418.35L453.97 418.87Q454.27 419.15 454.35 419.33L454.49 419.65Q454.57 419.82 454.25 420.07ZM450.2 424.5Q450.4 425.33 449.54 425.77L447.96 426.57Q447.1 427.01 445.61 426.98L442.87 426.92Q441.38 426.89 441.02 426.27L440.36 425.12Q440 424.5 441.11 423.68L443.16 422.17Q444.26 421.35 444.89 421.31L446.03 421.24Q446.66 421.21 447.43 421.46L448.87 421.91Q449.64 422.16 449.84 422.99ZM452.8 422.54Q453.61 420.93 455.47 420.79L458.91 420.52Q460.77 420.37 460.68 421.59L460.51 423.84Q460.41 425.06 458.75 425.73L455.68 426.98Q454.02 427.66 453.11 427.52L451.43 427.26Q450.52 427.11 451.32 425.51ZM443.85 429.83Q444.07 429.12 445.52 428.47L448.19 427.26Q449.63 426.6 450.72 427.02L452.72 427.8Q453.81 428.22 453.97 429.23L454.26 431.09Q454.42 432.1 453.03 432.77L450.46 434Q449.08 434.67 448.31 435.01L446.9 435.63Q446.13 435.97 445.37 434.89L443.98 432.91Q443.22 431.83 443.44 431.13ZM442.7 434.23Q442.89 434.31 443.18 434.48L443.72 434.8Q444.02 434.98 443.95 435.4L443.83 436.18Q443.76 436.6 443.48 436.65L442.97 436.75Q442.69 436.81 442.45 436.67L442.01 436.42Q441.78 436.29 441.61 435.98L441.29 435.4Q441.12 435.09 441.39 434.81L441.89 434.29Q442.16 434.01 442.35 434.09ZM459.37 429.19Q460.96 428.98 461.87 429.97L463.56 431.79Q464.47 432.78 463.51 433.56L461.72 435.01Q460.75 435.8 459.42 435.16L456.96 433.98Q455.63 433.34 455.43 432.41L455.05 430.7Q454.85 429.77 456.44 429.57ZM449.99 440.06Q449.88 441.1 448.38 441.85L445.6 443.22Q444.1 443.96 443.24 443.55L441.65 442.79Q440.78 442.38 441.06 441.46L441.57 439.76Q441.85 438.84 443.26 438.1L445.85 436.75Q447.26 436.02 448.05 436.29L449.51 436.81Q450.3 437.09 450.19 438.13ZM442.76 442.26Q443.15 442.08 443.41 442.28L443.88 442.65Q444.14 442.85 444.01 443.17L443.78 443.77Q443.66 444.09 443.23 444.39L442.44 444.94Q442.01 445.25 441.83 445.04L441.49 444.67Q441.31 444.46 441.39 444.02L441.55 443.2Q441.63 442.76 442.02 442.58ZM453.6 440.16Q453.48 438.91 454.76 437.82L457.13 435.81Q458.42 434.72 459.54 435.53L461.61 437.04Q462.73 437.86 461.71 438.94L459.82 440.93Q458.8 442 457.54 442.45L455.2 443.27Q453.94 443.71 453.82 442.46ZM454 434.14Q454.54 434.28 454.65 435.06L454.84 436.5Q454.94 437.28 454.37 437.31L453.33 437.38Q452.77 437.41 452.44 437.06L451.84 436.43Q451.51 436.08 451.75 435.47L452.21 434.34Q452.46 433.73 453 433.87ZM445.35 445.32Q445.79 444.8 446.6 444.63L448.1 444.33Q448.91 444.16 449.74 444.69L451.26 445.65Q452.08 446.18 452.37 446.96L452.91 448.42Q453.19 449.21 452.27 449.78L450.56 450.84Q449.63 451.42 448.79 451.03L447.24 450.31Q446.4 449.92 445.8 449.11L444.7 447.62Q444.1 446.81 444.54 446.28ZM456.54 446.76Q457.16 445.47 458.18 445.27L460.06 444.92Q461.08 444.72 461.91 445.74L463.46 447.63Q464.29 448.65 463.36 449.36L461.64 450.69Q460.71 451.4 459.16 451.16L456.3 450.69Q454.74 450.44 455.37 449.15ZM441.08 454.21Q440.38 452.73 442.35 452.48L446 452.03Q447.97 451.78 448.81 452.75L450.37 454.55Q451.21 455.52 450.11 456.53L448.1 458.39Q447 459.4 445.98 459.15L444.09 458.69Q443.07 458.44 442.37 456.96ZM453.9 452.4Q453.96 452.82 453.65 453L453.08 453.34Q452.77 453.52 452.47 453.46L451.9 453.36Q451.6 453.3 451.29 453L450.72 452.45Q450.41 452.15 450.55 451.85L450.82 451.29Q450.96 450.99 451.41 450.81L452.23 450.47Q452.68 450.28 452.95 450.52L453.45 450.97Q453.72 451.22 453.78 451.63ZM462.11 456.78Q461.68 457.85 459.73 458.03L456.14 458.36Q454.19 458.54 453.31 457.86L451.69 456.59Q450.81 455.9 451.99 454.86L454.17 452.94Q455.36 451.9 457.43 452.38L461.25 453.27Q463.32 453.75 462.89 454.82ZM443.21 464.22Q442.36 463.31 443.62 462.72L445.95 461.64Q447.21 461.05 448.71 461.69L451.47 462.89Q452.97 463.53 452.33 464.49L451.16 466.25Q450.52 467.21 449.25 467.11L446.91 466.93Q445.64 466.83 444.78 465.92ZM443.52 460.36Q443.43 460.67 443.2 460.87L442.78 461.23Q442.55 461.43 442.3 461L441.83 460.21Q441.58 459.78 441.68 459.52L441.87 459.02Q441.97 458.75 442.19 458.69L442.59 458.57Q442.81 458.51 443.06 458.76L443.53 459.21Q443.78 459.46 443.69 459.77ZM456.74 462Q457.34 461.14 458.35 461.11L460.23 461.04Q461.25 461 462 461.71L463.37 463.01Q464.12 463.71 464.43 464.09L465 464.8Q465.31 465.18 463.88 465.83L461.24 467.03Q459.82 467.68 458.53 467.26L456.16 466.47Q454.88 466.04 454.92 465.63L454.99 464.87Q455.03 464.45 455.63 463.59ZM462.1 461.07Q461.95 461.09 461.89 460.62L461.77 459.74Q461.71 459.26 461.98 459.1L462.49 458.82Q462.76 458.66 463.06 458.7L463.62 458.77Q463.92 458.81 464 459.12L464.16 459.69Q464.24 460 464.11 460.17L463.87 460.47Q463.74 460.64 463.43 460.73L462.84 460.91Q462.52 461 462.38 461.03ZM449.32 470.43Q450.69 471.3 450.28 472.46L449.53 474.59Q449.12 475.75 447.76 475.74L445.25 475.71Q443.89 475.7 443.45 475.12L442.64 474.04Q442.2 473.46 442 472.24L441.64 469.99Q441.45 468.78 442.47 468.56L444.37 468.16Q445.4 467.94 446.78 468.81ZM450.73 476.46Q450.26 476.11 450.5 475.78L450.95 475.15Q451.19 474.82 451.84 474.61L453.03 474.22Q453.67 474.01 453.81 474.41L454.07 475.17Q454.21 475.58 453.66 476.07L452.63 476.97Q452.07 477.46 451.6 477.11ZM458.55 475.27Q457.58 475.62 455.91 474.95L452.82 473.7Q451.15 473.03 451.46 472.18L452.02 470.63Q452.33 469.78 452.94 469.49L454.06 468.95Q454.67 468.65 455.99 469.17L458.41 470.14Q459.72 470.66 460.13 471.6L460.88 473.35Q461.29 474.3 460.32 474.64ZM453.66 480.63Q454.12 481.43 454 481.72L453.76 482.26Q453.63 482.55 452.45 482.87L450.27 483.46Q449.09 483.78 448.13 483.6L446.36 483.27Q445.4 483.1 445.03 481.77L444.35 479.33Q443.98 478.01 445.22 477.63L447.49 476.92Q448.72 476.54 449.66 477.02L451.4 477.9Q452.35 478.38 452.81 479.17ZM451.16 475.68Q451.13 475.31 451.43 475.14L451.99 474.81Q452.3 474.63 452.66 475.06L453.33 475.86Q453.7 476.3 453.51 476.49L453.16 476.83Q452.98 477.02 452.53 476.94L451.69 476.8Q451.24 476.72 451.21 476.35ZM457.3 477.18Q457.98 476.14 459.42 476.08L462.08 475.98Q463.52 475.93 463.41 477.63L463.22 480.78Q463.12 482.48 461.68 482.86L459.03 483.56Q457.59 483.94 457.01 482.95L455.93 481.14Q455.35 480.15 456.04 479.11ZM452.37 482.61Q452.48 482.4 452.92 482.56L453.72 482.85Q454.16 483 454.23 483.23L454.36 483.65Q454.43 483.88 454.18 484.2L453.71 484.8Q453.46 485.12 453.14 484.91L452.56 484.51Q452.25 484.3 452.2 484.01L452.11 483.47Q452.06 483.18 452.17 482.98ZM449.72 487.39Q450.74 488.42 450.1 488.89L448.92 489.77Q448.28 490.24 446.53 489.71L443.31 488.72Q441.57 488.19 441.6 487.47L441.66 486.15Q441.69 485.44 443.03 485.18L445.5 484.7Q446.84 484.44 447.85 485.48ZM462.25 489.25Q462.39 489.81 461.5 490.44L459.86 491.6Q458.97 492.22 457.73 491.85L455.46 491.16Q454.22 490.79 454.02 490.25L453.65 489.24Q453.45 488.7 453.44 487.39L453.43 484.96Q453.42 483.64 454.78 483.98L457.3 484.6Q458.66 484.94 459.5 485.64L461.04 486.94Q461.87 487.65 462.01 488.21ZM454.34 484.45Q454.15 484.64 453.92 484.79L453.48 485.07Q453.24 485.22 452.88 485.04L452.21 484.72Q451.85 484.55 451.87 484.33L451.89 483.91Q451.91 483.69 452.24 483.41L452.87 482.9Q453.2 482.62 453.53 482.69L454.14 482.83Q454.47 482.91 454.57 483.16L454.75 483.64Q454.85 483.9 454.67 484.09ZM450.92 499.76Q450.14 500.88 448.92 500.21L446.66 499Q445.43 498.33 445.08 497.1L444.42 494.83Q444.06 493.6 444.8 493.18L446.16 492.4Q446.89 491.98 448.34 492.52L451 493.53Q452.45 494.08 452.63 494.73L452.97 495.94Q453.15 496.59 452.37 497.7ZM463.88 498.74Q463.56 499.47 461.79 499.62L458.51 499.91Q456.74 500.07 455.86 499.6L454.23 498.74Q453.35 498.27 453.64 497.3L454.18 495.5Q454.48 494.53 455.43 494.06L457.2 493.21Q458.16 492.74 459.82 493.05L462.89 493.61Q464.55 493.91 464.61 494.63L464.72 495.95Q464.78 496.67 464.46 497.4ZM451.87 499.37Q451.83 499.13 452.16 498.87L452.76 498.37Q453.09 498.1 453.48 498.48L454.2 499.18Q454.59 499.56 454.5 499.82L454.32 500.31Q454.23 500.58 453.85 500.75L453.14 501.06Q452.75 501.23 452.55 500.92L452.19 500.34Q451.99 500.03 451.95 499.8ZM441.67 500.75Q441.88 499.7 443.7 499.97L447.06 500.48Q448.88 500.75 449.25 501.73L449.93 503.54Q450.3 504.53 448.92 505.16L446.38 506.35Q445 506.98 443.98 506.14L442.08 504.59Q441.06 503.75 441.27 502.69ZM442.43 505.24Q442.83 504.93 443.19 505.29L443.85 505.93Q444.21 506.29 443.98 506.78L443.56 507.7Q443.33 508.19 442.86 508.06L441.98 507.83Q441.5 507.7 441.45 507.28L441.35 506.51Q441.29 506.09 441.69 505.79ZM460.11 501.65Q460.13 502.32 460 503.1L459.76 504.54Q459.64 505.32 458.49 505.73L456.37 506.48Q455.22 506.89 454.48 506.32L453.1 505.28Q452.35 504.71 452.41 504.3L452.52 503.53Q452.58 503.11 453.28 502.34L454.57 500.91Q455.26 500.14 456.51 500.03L458.81 499.83Q460.06 499.72 460.08 500.4ZM454.25 501.83Q454.04 502.36 453.36 501.99L452.08 501.3Q451.4 500.93 451.48 500.3L451.65 499.14Q451.74 498.51 452.23 498.42L453.14 498.25Q453.63 498.15 453.95 498.73L454.53 499.78Q454.84 500.35 454.63 500.87ZM510.23 295.99Q509.85 297.02 509.22 297.3L508.07 297.81Q507.44 298.09 506.42 297.95L504.53 297.7Q503.51 297.57 502.76 297.07L501.38 296.15Q500.63 295.65 500.84 294.5L501.23 292.38Q501.45 291.23 502.44 290.89L504.28 290.27Q505.28 289.93 506.85 290.75L509.74 292.26Q511.31 293.08 510.93 294.1ZM512.27 294.32Q511.75 293.38 512.74 292.91L514.56 292.05Q515.55 291.58 517.05 292.18L519.82 293.28Q521.32 293.88 521.44 294.63L521.66 296.04Q521.78 296.79 521.2 297.47L520.13 298.73Q519.56 299.41 518.04 298.79L515.25 297.63Q513.74 297 513.22 296.06ZM513.58 291.6Q514.02 291.58 514.09 292L514.22 292.78Q514.3 293.2 513.89 293.46L513.13 293.95Q512.73 294.22 512.5 293.9L512.08 293.31Q511.86 292.99 511.97 292.65L512.19 292.02Q512.31 291.68 512.76 291.65ZM512.24 300.69Q512.59 300.98 512.24 302.04L511.59 304Q511.24 305.06 510.73 305.33L509.81 305.83Q509.3 306.1 508.04 305.82L505.7 305.31Q504.43 305.03 504.21 303.74L503.81 301.38Q503.59 300.09 504.05 299.6L504.9 298.7Q505.37 298.21 506.89 298.64L509.71 299.43Q511.23 299.86 511.58 300.15ZM503.94 306.55Q504.3 307.16 504.17 307.41L503.93 307.89Q503.79 308.15 503.22 308.21L502.17 308.32Q501.6 308.38 501.37 307.96L500.95 307.18Q500.72 306.76 500.81 306.41L500.98 305.76Q501.07 305.41 501.55 305.26L502.44 304.99Q502.92 304.84 503.28 305.44ZM525.37 300.74Q525.77 301.51 524.68 302.8L522.66 305.19Q521.56 306.48 520.05 306.46L517.25 306.42Q515.73 306.4 515.24 306.22L514.34 305.89Q513.86 305.72 514.21 304.69L514.87 302.79Q515.23 301.76 516.82 300.99L519.77 299.57Q521.37 298.8 522.11 298.73L523.5 298.61Q524.25 298.55 524.64 299.32ZM514.61 298.18Q514.93 298.34 514.66 299.01L514.16 300.27Q513.9 300.94 513.57 300.86L512.97 300.7Q512.64 300.62 512.42 300.14L512.02 299.27Q511.81 298.79 512.3 298.51L513.22 298Q513.71 297.72 514.03 297.88ZM501.41 312.61Q501.05 311.96 501.62 311.39L502.67 310.33Q503.24 309.75 504.79 309.04L507.64 307.72Q509.18 307 509.69 307.82L510.63 309.32Q511.15 310.14 510.08 311.18L508.13 313.11Q507.07 314.16 505.86 314.23L503.64 314.36Q502.44 314.43 502.08 313.79ZM511.88 314.06Q512.11 313.9 512.32 313.91L512.7 313.93Q512.91 313.94 513.1 314.14L513.46 314.52Q513.65 314.72 513.48 315.02L513.16 315.57Q512.99 315.87 512.81 315.91L512.48 315.98Q512.3 316.02 512.02 315.94L511.5 315.78Q511.22 315.69 511.22 315.39L511.22 314.83Q511.22 314.53 511.45 314.36ZM520.68 312.75Q521.1 313.76 520.55 314.21L519.52 315.05Q518.97 315.5 517.37 314.63L514.43 313.04Q512.84 312.17 512.84 311.41L512.85 310.01Q512.85 309.25 513.84 308.88L515.67 308.19Q516.66 307.82 517.39 308.35L518.74 309.32Q519.46 309.85 519.89 310.87ZM504.39 318.83Q504.38 317.9 505.1 317.4L506.45 316.48Q507.17 315.98 508.48 315.87L510.88 315.68Q512.18 315.57 512.69 316.6L513.63 318.48Q514.14 319.5 513.69 320.22L512.86 321.54Q512.41 322.26 511.66 322.36L510.27 322.55Q509.51 322.65 508.19 322.35L505.74 321.79Q504.41 321.49 504.4 320.55ZM512.3 324.07Q511.89 324.17 511.67 323.97L511.28 323.61Q511.07 323.41 511.11 323.11L511.19 322.55Q511.23 322.25 511.4 322.05L511.72 321.66Q511.89 321.45 512.14 321.55L512.6 321.74Q512.85 321.84 513.07 322.19L513.49 322.85Q513.71 323.2 513.65 323.35L513.53 323.63Q513.46 323.77 513.05 323.88ZM520.13 315.08Q521.5 314.14 522.15 314.37L523.34 314.8Q523.99 315.03 523.84 316L523.57 317.8Q523.43 318.77 522.13 319.64L519.73 321.25Q518.43 322.13 517.42 321.96L515.55 321.64Q514.54 321.47 514.98 320.51L515.8 318.73Q516.25 317.77 517.61 316.83ZM503.65 325.49Q504.89 323.7 505.97 323.74L507.97 323.8Q509.05 323.84 509.45 325.12L510.19 327.49Q510.59 328.78 508.81 329.53L505.52 330.93Q503.74 331.69 502.81 331.4L501.08 330.86Q500.15 330.57 501.38 328.79ZM503.72 323.36Q503.95 323.79 503.6 323.95L502.97 324.25Q502.63 324.41 502.36 324.22L501.85 323.88Q501.58 323.69 501.68 323.35L501.88 322.72Q501.98 322.38 502.27 322.32L502.8 322.21Q503.09 322.14 503.31 322.57ZM517.15 325.03Q518.55 324.07 519.45 324.3L521.13 324.73Q522.03 324.96 521.36 326.41L520.12 329.09Q519.45 330.54 517.74 330.93L514.6 331.65Q512.89 332.04 512.97 330.93L513.11 328.88Q513.18 327.77 514.58 326.81ZM511.02 339.77Q510.32 340.16 509.23 339.56L507.23 338.46Q506.14 337.87 505.6 336.46L504.6 333.87Q504.06 332.46 505.27 332.14L507.49 331.54Q508.69 331.22 509.53 331.53L511.09 332.11Q511.93 332.42 512.21 334.05L512.74 337.06Q513.02 338.69 512.32 339.07ZM522.87 331.5Q524.06 331.63 523.83 333L523.41 335.52Q523.19 336.88 522.78 337.36L522.02 338.24Q521.61 338.71 520.55 338.86L518.6 339.14Q517.54 339.29 516.74 338.29L515.28 336.44Q514.49 335.43 514.98 334.93L515.89 333.99Q516.39 333.48 517.2 332.87L518.69 331.74Q519.5 331.13 520.68 331.26ZM501.9 341.87Q501.53 340.76 501.66 340.17L501.91 339.08Q502.04 338.49 503.74 338.92L506.88 339.72Q508.58 340.15 508.99 340.87L509.73 342.21Q510.13 342.93 510.34 343.83L510.72 345.48Q510.93 346.37 510.03 346.46L508.36 346.64Q507.46 346.74 506.29 346.3L504.14 345.48Q502.97 345.04 502.6 343.93ZM511.64 342.94Q511.58 341.89 512.69 341.34L514.74 340.32Q515.85 339.77 517.55 339.92L520.68 340.2Q522.38 340.36 522.24 341.31L521.99 343.06Q521.85 344.01 520.63 344.58L518.38 345.65Q517.16 346.22 515.77 346.15L513.21 346.01Q511.82 345.94 511.76 344.89ZM510.82 348.56Q512.19 348.89 512.56 350.22L513.24 352.68Q513.61 354.02 511.67 353.84L508.1 353.52Q506.16 353.35 505.27 352.49L503.63 350.91Q502.74 350.06 503.83 349.43L505.84 348.26Q506.93 347.63 508.3 347.96ZM518.49 354.76Q517.19 354.54 516.45 353.66L515.08 352.03Q514.33 351.14 514.49 350.53L514.77 349.41Q514.92 348.8 515.76 348.2L517.32 347.09Q518.16 346.49 519.67 347.3L522.46 348.8Q523.97 349.61 524.11 350.33L524.36 351.66Q524.49 352.39 523.89 353.17L522.77 354.6Q522.17 355.38 520.88 355.16ZM523.65 354.06Q523.99 354.1 524.15 354.5L524.44 355.25Q524.59 355.65 524.23 355.91L523.57 356.39Q523.21 356.65 522.79 356.46L522.01 356.12Q521.59 355.94 521.57 355.74L521.53 355.36Q521.5 355.16 521.81 354.85L522.36 354.27Q522.67 353.96 523.01 353.99ZM503.36 362.92Q502.84 362.48 502.54 361.58L501.97 359.91Q501.67 359.01 502.46 358.28L503.93 356.93Q504.72 356.2 505.36 356.05L506.53 355.78Q507.17 355.63 508.23 356.41L510.19 357.86Q511.25 358.65 510.83 359.61L510.05 361.39Q509.63 362.36 508.39 362.82L506.08 363.68Q504.84 364.15 504.32 363.71ZM513.11 359.29Q512.03 358.49 512.43 357.69L513.17 356.23Q513.56 355.43 514.31 355.43L515.69 355.42Q516.43 355.41 517.84 356.23L520.43 357.74Q521.83 358.56 521.48 359.46L520.81 361.13Q520.45 362.03 519.34 361.91L517.29 361.68Q516.18 361.56 515.1 360.76ZM512.01 370.8Q511.93 371.84 509.94 370.81L506.27 368.92Q504.28 367.89 504.08 366.66L503.71 364.39Q503.51 363.16 504.71 363.31L506.91 363.58Q508.1 363.72 509.18 364.79L511.16 366.77Q512.24 367.84 512.15 368.88ZM516.45 366.1Q515.98 365.13 515.92 364.45L515.8 363.19Q515.74 362.51 516.7 362.44L518.47 362.3Q519.43 362.22 520.42 363.37L522.26 365.5Q523.26 366.65 523.59 367.61L524.2 369.39Q524.53 370.35 523.8 370.39L522.47 370.46Q521.75 370.5 520.71 370.07L518.8 369.27Q517.76 368.84 517.3 367.88ZM513.12 361.53Q513.61 361.25 513.99 361.55L514.69 362.1Q515.08 362.4 515.09 362.88L515.12 363.76Q515.14 364.24 514.77 364.6L514.1 365.26Q513.73 365.61 513.1 365.28L511.93 364.68Q511.3 364.35 511.41 363.81L511.6 362.83Q511.71 362.3 512.2 362.03ZM509.02 373.96Q510.26 374.95 510.04 375.85L509.64 377.49Q509.42 378.38 507.59 377.97L504.2 377.2Q502.37 376.79 501.74 375.81L500.58 374Q499.95 373.02 501.39 372.53L504.04 371.62Q505.48 371.12 506.72 372.12ZM502.34 378.21Q502.64 377.92 502.84 378.03L503.2 378.23Q503.4 378.34 503.51 378.58L503.72 379.03Q503.83 379.27 503.74 379.46L503.56 379.8Q503.46 379.99 503.06 380.16L502.31 380.48Q501.91 380.65 501.73 380.37L501.38 379.87Q501.2 379.59 501.27 379.45L501.42 379.18Q501.5 379.03 501.79 378.74ZM511.15 374.33Q511.07 373.54 513.24 373.37L517.25 373.06Q519.43 372.89 520.05 373.87L521.21 375.67Q521.84 376.65 520.71 377.36L518.63 378.68Q517.5 379.39 515.91 378.66L512.97 377.32Q511.38 376.59 511.3 375.8ZM523.95 378.28Q524.25 378.5 524.4 378.87L524.68 379.56Q524.83 379.94 524.41 380.15L523.63 380.54Q523.21 380.76 522.72 380.54L521.8 380.14Q521.31 379.93 521.31 379.61L521.31 379.03Q521.31 378.71 521.77 378.44L522.63 377.93Q523.1 377.65 523.4 377.87ZM507.16 379.69Q507.99 379.52 509.12 379.68L511.22 379.98Q512.35 380.14 512.88 380.88L513.86 382.26Q514.39 383.01 513.39 383.85L511.53 385.41Q510.53 386.26 509.62 386.47L507.95 386.86Q507.04 387.08 506.04 386.4L504.2 385.14Q503.2 384.46 503.62 383.35L504.39 381.31Q504.81 380.2 505.63 380.02ZM501.53 387.31Q501.37 386.96 501.67 386.7L502.21 386.23Q502.5 385.97 502.95 386.19L503.76 386.59Q504.2 386.81 503.97 387.28L503.54 388.16Q503.31 388.63 502.97 388.55L502.33 388.4Q501.99 388.31 501.83 387.96ZM514.95 383.71Q514.45 382.74 515.39 382.22L517.13 381.25Q518.07 380.72 519.52 380.85L522.18 381.08Q523.62 381.21 523.69 382.61L523.82 385.2Q523.89 386.61 523.46 386.87L522.67 387.35Q522.25 387.61 520.72 387.31L517.91 386.75Q516.39 386.45 515.89 385.49ZM523.2 377.54Q523.67 377.43 523.9 377.87L524.32 378.68Q524.54 379.13 524.42 379.6L524.2 380.48Q524.09 380.95 523.58 381.06L522.65 381.27Q522.15 381.38 521.83 380.92L521.24 380.07Q520.92 379.61 521.16 379.16L521.61 378.33Q521.85 377.88 522.32 377.76ZM501.61 393.37Q500.55 392.83 500.76 391.85L501.15 390.03Q501.36 389.05 503.68 389.4L507.95 390.03Q510.26 390.38 510.18 391.45L510.01 393.43Q509.92 394.5 508.55 394.62L506 394.82Q504.63 394.94 503.57 394.39ZM516.1 395.04Q514.67 394.96 514.29 393.69L513.57 391.33Q513.18 390.05 513.89 389.2L515.19 387.63Q515.9 386.78 517.55 388.01L520.59 390.29Q522.24 391.53 521.7 392.5L520.69 394.29Q520.15 395.27 518.73 395.19ZM511.98 399.75Q511.56 400.6 509.81 401.12L506.59 402.07Q504.85 402.59 504.15 401.3L502.86 398.92Q502.16 397.63 504.05 396.78L507.52 395.22Q509.4 394.38 510.38 395.15L512.19 396.57Q513.17 397.34 512.75 398.19ZM521.65 401.32Q520.56 402.54 519.54 402.92L517.67 403.62Q516.65 403.99 516.29 402.72L515.63 400.37Q515.27 399.1 515.97 398.2L517.27 396.54Q517.97 395.65 519.33 395.54L521.83 395.34Q523.18 395.23 523.6 395.9L524.36 397.16Q524.77 397.84 523.67 399.06ZM502.49 409.06Q501.69 408.44 501.64 407.94L501.54 407.01Q501.49 406.51 503.14 405.61L506.18 403.95Q507.82 403.04 508.45 403.42L509.61 404.13Q510.23 404.51 509.82 405.94L509.07 408.57Q508.66 410 507.65 410.22L505.79 410.61Q504.79 410.83 503.98 410.21ZM515.45 409.36Q514.08 409.04 513.56 408.23L512.6 406.74Q512.08 405.93 512.36 405.66L512.89 405.15Q513.17 404.87 514.3 404.62L516.39 404.15Q517.52 403.9 518.14 404.31L519.28 405.07Q519.9 405.48 520.5 406.15L521.62 407.38Q522.22 408.04 521.47 408.62L520.09 409.69Q519.35 410.27 517.98 409.95ZM507.26 412.2Q508.64 411 509.67 411.27L511.57 411.78Q512.59 412.05 512.88 413.43L513.41 415.98Q513.69 417.37 513.03 417.82L511.82 418.65Q511.16 419.11 509.04 418.79L505.15 418.21Q503.04 417.9 503.12 417.31L503.27 416.22Q503.35 415.62 504.73 414.42ZM501.57 412.38Q500.99 412.02 501.09 411.65L501.26 410.96Q501.35 410.59 501.72 410.48L502.41 410.3Q502.78 410.2 503.15 410.68L503.83 411.57Q504.19 412.05 503.94 412.4L503.46 413.05Q503.2 413.4 502.63 413.04ZM521.35 412.3Q522.61 412.3 523.21 413.3L524.31 415.14Q524.9 416.14 524.23 417.17L522.99 419.06Q522.31 420.09 520.77 419.75L517.92 419.12Q516.37 418.77 516.06 417.66L515.47 415.61Q515.16 414.5 515.83 413.93L517.07 412.87Q517.74 412.29 519.01 412.29ZM513.97 413.54Q513.56 414.13 513.09 413.55L512.21 412.48Q511.73 411.9 511.93 411.39L512.31 410.44Q512.51 409.93 512.99 410.06L513.87 410.29Q514.35 410.41 514.55 410.79L514.91 411.47Q515.11 411.85 514.71 412.44ZM505.47 427.33Q504.35 427.6 503.47 426.92L501.83 425.68Q500.94 425.01 500.68 424.35L500.19 423.12Q499.93 422.46 501.02 421.61L503.04 420.04Q504.13 419.19 504.95 419.53L506.46 420.17Q507.29 420.52 508.39 421.59L510.42 423.58Q511.53 424.66 510.77 425.16L509.38 426.08Q508.63 426.58 507.52 426.85ZM502.72 418.86Q503.03 418.82 503.21 419.06L503.54 419.49Q503.71 419.73 503.72 419.93L503.73 420.31Q503.74 420.52 503.44 420.57L502.89 420.68Q502.59 420.73 502.33 420.51L501.84 420.1Q501.58 419.88 501.64 419.64L501.76 419.2Q501.83 418.96 502.14 418.92ZM513.03 422.78Q512.82 421.55 513.27 421.29L514.08 420.82Q514.53 420.56 516.14 421.1L519.13 422.11Q520.75 422.66 520.83 423.44L520.97 424.87Q521.06 425.65 520.42 426.23L519.24 427.3Q518.61 427.88 517.31 427.46L514.91 426.68Q513.61 426.26 513.4 425.04ZM512.4 427.27Q512.42 426.89 512.76 426.72L513.4 426.4Q513.75 426.23 513.87 426.53L514.09 427.09Q514.21 427.38 514.01 427.71L513.65 428.32Q513.46 428.65 513.17 428.58L512.63 428.44Q512.33 428.37 512.36 427.98ZM513.09 430.5Q513.88 431.61 512.91 432.48L511.11 434.09Q510.14 434.96 509.28 435.04L507.7 435.19Q506.84 435.28 506.05 434.27L504.59 432.42Q503.8 431.42 504.79 430.62L506.6 429.13Q507.59 428.32 508.44 428.06L510 427.58Q510.85 427.32 511.63 428.44ZM504.13 426.95Q504.47 427.22 504.32 427.5L504.04 428.01Q503.89 428.28 503.4 428.53L502.48 428.99Q501.99 429.23 501.74 429.12L501.29 428.9Q501.04 428.78 501.08 428.39L501.16 427.68Q501.2 427.3 501.71 427L502.66 426.46Q503.17 426.17 503.51 426.44ZM518.28 434.42Q516.62 433.85 515.93 432.95L514.65 431.29Q513.96 430.4 515.15 429.76L517.35 428.58Q518.54 427.94 519.49 428.08L521.24 428.34Q522.19 428.48 522.84 429.43L524.03 431.17Q524.67 432.12 524.24 433.14L523.45 435.03Q523.02 436.06 521.36 435.48ZM506.12 443.99Q504.28 444.24 503.3 443.3L501.5 441.57Q500.52 440.62 500.82 439.89L501.36 438.53Q501.66 437.79 502.85 437.47L505.06 436.87Q506.25 436.55 507.27 437.39L509.17 438.94Q510.19 439.78 510.5 440.69L511.07 442.37Q511.37 443.28 509.53 443.53ZM502.58 434.84Q503 434.65 503.26 434.89L503.75 435.33Q504.01 435.57 503.74 435.91L503.24 436.54Q502.97 436.88 502.65 436.75L502.05 436.5Q501.73 436.37 501.64 436.11L501.48 435.64Q501.4 435.38 501.81 435.19ZM513.14 439.46Q511.85 438.34 512.17 437.68L512.77 436.46Q513.09 435.8 514.28 435.85L516.46 435.95Q517.65 436 518.88 436.8L521.16 438.29Q522.39 439.09 521.92 439.69L521.04 440.8Q520.57 441.4 519.59 441.72L517.79 442.31Q516.81 442.63 515.52 441.51ZM523.51 444.72Q523.22 444.99 522.94 444.97L522.43 444.93Q522.15 444.91 522 444.5L521.71 443.73Q521.56 443.32 521.61 443.07L521.69 442.59Q521.74 442.33 522.2 442.25L523.03 442.11Q523.49 442.03 523.72 442.22L524.14 442.58Q524.37 442.77 524.36 443.08L524.35 443.65Q524.34 443.96 524.05 444.23ZM504.11 446.09Q504.09 445.11 505.52 444.7L508.16 443.95Q509.59 443.54 510.38 444.5L511.82 446.27Q512.6 447.23 511.18 448.23L508.55 450.05Q507.13 451.05 506.36 450.49L504.93 449.45Q504.16 448.89 504.14 447.91ZM517.03 445.32Q517.46 444.67 518.93 444.69L521.65 444.75Q523.12 444.77 523.28 446.2L523.57 448.82Q523.73 450.25 522.48 450.48L520.18 450.92Q518.93 451.16 518.12 450.12L516.61 448.21Q515.8 447.18 516.23 446.53ZM510.89 458.06Q510.9 458.62 510.04 459.31L508.47 460.58Q507.61 461.26 506.63 460.73L504.81 459.73Q503.83 459.19 502.75 457.75L500.77 455.1Q499.7 453.67 500.6 453.08L502.25 451.98Q503.15 451.39 503.64 451.56L504.54 451.88Q505.04 452.05 506.55 453.2L509.35 455.32Q510.86 456.47 510.87 457.03ZM513.07 458.93Q513.38 459.17 513.44 459.48L513.54 460.06Q513.6 460.38 513.27 460.53L512.65 460.82Q512.32 460.97 512.1 460.94L511.71 460.87Q511.5 460.83 511.33 460.47L511.01 459.79Q510.83 459.42 510.87 459.24L510.95 458.91Q510.99 458.72 511.3 458.6L511.87 458.37Q512.17 458.24 512.49 458.48ZM519.05 453.65Q520.27 454.01 520.69 454.77L521.46 456.17Q521.88 456.93 521.56 457.77L520.96 459.3Q520.63 460.14 519.51 459.9L517.44 459.47Q516.32 459.24 515.4 458.96L513.69 458.45Q512.77 458.17 512.64 456.94L512.41 454.68Q512.28 453.45 513.14 453.23L514.72 452.83Q515.58 452.61 516.8 452.97ZM513.27 464.29Q513.76 465.08 513.25 465.63L512.29 466.63Q511.78 467.17 510.73 467.36L508.79 467.7Q507.73 467.88 506.91 466.51L505.4 463.97Q504.58 462.59 505.23 462.33L506.44 461.83Q507.09 461.56 508.33 461.68L510.62 461.91Q511.86 462.03 512.35 462.83ZM502.07 466.4Q502.53 466.24 503 466.48L503.86 466.92Q504.33 467.16 504.12 467.75L503.73 468.85Q503.52 469.45 503.06 469.29L502.2 468.99Q501.73 468.83 501.48 468.32L501.01 467.38Q500.75 466.87 501.22 466.71ZM523.78 463.79Q524.67 464.57 524.33 465.36L523.7 466.83Q523.36 467.63 521.85 467.62L519.08 467.61Q517.58 467.61 516.59 466.7L514.76 465.04Q513.77 464.13 514.68 463.37L516.35 461.96Q517.26 461.19 518.29 461.3L520.2 461.49Q521.24 461.59 522.13 462.37ZM512.55 468.89Q512.18 468.92 512.05 468.6L511.8 468Q511.66 467.68 511.96 467.4L512.51 466.88Q512.81 466.6 513.28 466.67L514.13 466.79Q514.6 466.86 514.66 467.07L514.76 467.46Q514.82 467.68 514.5 467.97L513.9 468.51Q513.58 468.8 513.22 468.83ZM502.65 469.52Q503.35 468 504.87 468.15L507.68 468.42Q509.2 468.57 509.06 469.82L508.81 472.13Q508.67 473.37 507.69 473.93L505.9 474.95Q504.92 475.51 503.81 475.08L501.77 474.28Q500.66 473.85 501.36 472.33ZM512.89 468.78Q512.68 468.91 512.42 468.92L511.95 468.93Q511.69 468.94 511.58 468.85L511.37 468.68Q511.26 468.59 511.32 468.24L511.45 467.61Q511.51 467.27 511.78 467.14L512.29 466.9Q512.56 466.78 512.68 466.91L512.89 467.16Q513 467.29 513.13 467.59L513.37 468.13Q513.5 468.43 513.29 468.55ZM511.12 470.92Q511.16 470.04 512.03 469.31L513.65 467.95Q514.53 467.21 515.92 467.62L518.47 468.36Q519.86 468.77 520.59 469.34L521.95 470.4Q522.68 470.97 521.79 471.58L520.15 472.7Q519.26 473.31 518.43 473.73L516.91 474.51Q516.08 474.93 514.76 474.54L512.33 473.82Q511.02 473.43 511.05 472.55ZM506.38 477.4Q506.9 476.97 507.9 476.98L509.75 476.98Q510.75 476.99 511.53 477.57L512.97 478.65Q513.74 479.23 513.06 480.26L511.79 482.17Q511.1 483.2 510.24 483.21L508.65 483.21Q507.79 483.22 506.58 483.16L504.35 483.04Q503.14 482.98 503.6 481.84L504.45 479.74Q504.91 478.6 505.43 478.18ZM511.6 477Q511.14 476.87 511.15 476.63L511.15 476.18Q511.16 475.93 511.27 475.71L511.46 475.3Q511.57 475.08 511.85 474.95L512.37 474.71Q512.66 474.58 512.85 474.77L513.2 475.1Q513.38 475.29 513.39 475.62L513.4 476.25Q513.41 476.59 513.27 476.79L513.03 477.16Q512.9 477.36 512.44 477.24ZM523.71 479.22Q524.61 480.28 523.88 480.77L522.53 481.68Q521.8 482.17 519.86 482.26L516.27 482.41Q514.32 482.49 515.12 481.03L516.6 478.34Q517.4 476.88 518.37 476.71L520.17 476.39Q521.14 476.21 522.04 477.27ZM501.63 486.01Q501.81 485.26 502.95 485.03L505.04 484.6Q506.18 484.36 507.18 484.81L509.03 485.62Q510.04 486.07 510.2 486.56L510.51 487.48Q510.68 487.98 509.79 488.91L508.15 490.62Q507.27 491.55 506.61 491.38L505.4 491.07Q504.74 490.9 503.8 490.18L502.05 488.86Q501.11 488.15 501.29 487.4ZM510.99 485.34Q510.45 485.29 510.47 484.95L510.51 484.33Q510.53 483.99 510.75 483.69L511.16 483.13Q511.38 482.83 511.81 482.79L512.62 482.72Q513.06 482.69 513.33 482.91L513.82 483.32Q514.09 483.54 513.92 483.93L513.6 484.65Q513.42 485.03 513.19 485.15L512.77 485.36Q512.54 485.47 511.99 485.43ZM513.51 490.62Q513.27 490.31 513.02 489.13L512.56 486.96Q512.32 485.78 513.22 485.48L514.88 484.91Q515.78 484.6 517.17 485.16L519.74 486.21Q521.13 486.78 521.28 487.46L521.57 488.72Q521.73 489.4 521.41 489.94L520.82 490.95Q520.5 491.49 518.86 491.5L515.84 491.5Q514.2 491.5 513.96 491.19ZM512.61 483.16Q512.84 482.84 513.07 482.77L513.5 482.63Q513.73 482.55 513.92 482.77L514.28 483.18Q514.47 483.4 514.43 483.61L514.37 484.01Q514.33 484.22 514.13 484.51L513.75 485.05Q513.54 485.34 513.29 485.28L512.82 485.16Q512.57 485.1 512.41 484.83L512.12 484.33Q511.96 484.06 512.19 483.74ZM511.91 497.32Q511.85 498.55 510.33 498.9L507.51 499.54Q505.98 499.88 505.51 498.87L504.63 497Q504.15 495.99 504.64 495.05L505.54 493.32Q506.03 492.39 507.6 492.76L510.49 493.45Q512.06 493.82 512.01 495.05ZM521.68 493.74Q523.13 494.18 523.79 495.39L525 497.62Q525.66 498.83 523.47 499L519.42 499.34Q517.23 499.52 516.27 498.42L514.5 496.39Q513.55 495.29 514.59 494.56L516.51 493.2Q517.56 492.47 519.01 492.91ZM509.17 507.7Q508.97 508.29 507.56 507.96L504.96 507.35Q503.55 507.02 503.09 506.15L502.24 504.54Q501.78 503.67 501.92 503.29L502.18 502.6Q502.33 502.22 503.32 501.94L505.14 501.42Q506.13 501.14 506.89 501.62L508.29 502.5Q509.06 502.98 509.23 503.78L509.55 505.25Q509.72 506.05 509.53 506.63ZM511.5 507.59Q511.26 507.48 511.11 507.16L510.82 506.59Q510.67 506.27 511.08 505.84L511.84 505.03Q512.26 504.6 512.62 504.75L513.27 505.03Q513.63 505.19 513.65 505.62L513.69 506.43Q513.71 506.87 513.31 507.14L512.57 507.64Q512.17 507.92 511.94 507.8ZM512.27 503.66Q511.99 502.96 513.71 502.2L516.89 500.8Q518.62 500.05 519.46 501.02L521.02 502.82Q521.86 503.8 520.71 504.84L518.59 506.77Q517.44 507.81 516.3 507.25L514.2 506.22Q513.06 505.66 512.78 504.96ZM448.13 509.98Q449.62 510.52 449.73 511.4L449.93 513.03Q450.04 513.91 449.36 514.21L448.12 514.77Q447.45 515.07 446.19 514.34L443.88 512.99Q442.63 512.26 442.12 511.6L441.18 510.39Q440.68 509.73 441.51 509.39L443.04 508.77Q443.87 508.43 445.36 508.98ZM462.15 509.68Q462.79 510.38 462.21 510.92L461.14 511.93Q460.56 512.47 459.67 512.97L458.04 513.89Q457.16 514.39 456.38 514.08L454.94 513.52Q454.17 513.21 454.22 512.19L454.32 510.3Q454.38 509.28 455.32 508.97L457.06 508.4Q458.01 508.09 458.61 507.99L459.72 507.81Q460.32 507.71 460.96 508.4ZM473.1 508.71Q473.8 508.96 473.49 509.96L472.92 511.81Q472.61 512.82 471.3 513.67L468.87 515.23Q467.56 516.08 467.03 515.85L466.05 515.42Q465.52 515.19 465.44 514.43L465.29 513.02Q465.21 512.26 465.91 511.23L467.22 509.32Q467.92 508.28 468.75 508.21L470.27 508.08Q471.09 508.01 471.79 508.25ZM477.2 513.81Q477.9 513.85 477.89 514.51L477.88 515.72Q477.88 516.38 477.31 516.59L476.27 516.98Q475.7 517.19 475.44 516.81L474.95 516.09Q474.69 515.71 474.83 515.18L475.08 514.22Q475.21 513.7 475.91 513.74ZM476.52 510.47Q476.65 509.99 478.62 509.15L482.27 507.61Q484.24 506.78 484.55 507.04L485.11 507.52Q485.41 507.79 485.44 509.02L485.48 511.3Q485.5 512.53 484.19 513.21L481.77 514.47Q480.46 515.16 479.95 515.15L479.01 515.15Q478.5 515.15 477.89 514.29L476.77 512.7Q476.16 511.84 476.29 511.35ZM489.05 513.27Q487.69 512.63 488.1 512.04L488.86 510.96Q489.28 510.38 490.43 509.71L492.57 508.47Q493.73 507.8 494.63 508.04L496.3 508.47Q497.2 508.71 497.12 509.84L496.98 511.92Q496.91 513.05 495.87 513.58L493.96 514.56Q492.93 515.09 491.57 514.45ZM504.19 509.49Q505.53 508.71 507 509.08L509.71 509.75Q511.17 510.12 510.29 511.21L508.67 513.23Q507.79 514.33 506.56 514.38L504.29 514.48Q503.07 514.54 502.36 513.8L501.07 512.44Q500.37 511.71 501.71 510.93ZM502.52 509.97Q502.47 510.37 501.74 510.58L500.39 510.98Q499.66 511.19 499.63 510.78L499.57 510.03Q499.54 509.62 499.82 509.31L500.33 508.72Q500.61 508.4 501.14 508.51L502.13 508.71Q502.67 508.81 502.62 509.22ZM520.27 515.22Q519.64 515.77 518.33 515.48L515.93 514.94Q514.63 514.65 513.92 513.73L512.61 512.03Q511.9 511.12 512.29 510.48L513.02 509.32Q513.41 508.68 514.34 508.66L516.05 508.61Q516.98 508.58 517.97 509.25L519.81 510.48Q520.8 511.15 521.13 511.8L521.73 513.01Q522.06 513.66 521.43 514.21ZM447.6 521.58Q446.75 521.35 445.92 521.1L444.39 520.63Q443.56 520.37 443.73 519.53L444.05 517.98Q444.23 517.14 445.63 516.58L448.21 515.53Q449.6 514.96 450.82 515.16L453.08 515.53Q454.3 515.73 454.5 516.3L454.88 517.36Q455.08 517.93 453.76 519.05L451.32 521.11Q450 522.22 449.16 522ZM441.18 516.36Q440.92 515.91 441.1 515.32L441.44 514.23Q441.63 513.64 441.98 513.56L442.64 513.41Q443 513.33 443.47 513.82L444.35 514.71Q444.83 515.19 444.57 515.65L444.08 516.49Q443.82 516.95 443.33 517.13L442.42 517.46Q441.93 517.64 441.67 517.19ZM458.26 523.26Q457.18 523.48 456.92 522.44L456.42 520.53Q456.15 519.49 457.06 518.76L458.73 517.4Q459.64 516.66 460.83 516.38L463.04 515.86Q464.23 515.58 464.46 515.99L464.89 516.75Q465.12 517.17 465.39 517.79L465.88 518.93Q466.14 519.55 464.89 520.36L462.58 521.84Q461.33 522.65 460.25 522.86ZM452.27 515.91Q452.01 515.7 452.18 515.47L452.49 515.05Q452.66 514.83 452.84 514.71L453.18 514.5Q453.37 514.38 453.66 514.5L454.2 514.72Q454.49 514.83 454.54 515.05L454.64 515.44Q454.69 515.66 454.37 515.88L453.77 516.29Q453.44 516.52 453.33 516.51L453.14 516.51Q453.03 516.5 452.76 516.29ZM476.49 516.45Q477.23 516.66 476.81 517.7L476.03 519.63Q475.61 520.67 474.45 520.95L472.31 521.45Q471.14 521.72 470.61 521.37L469.64 520.72Q469.11 520.37 469.22 519.45L469.42 517.77Q469.52 516.85 470.79 516.59L473.13 516.11Q474.4 515.85 475.13 516.06ZM465.24 513.94Q465.72 513.87 465.95 513.96L466.37 514.14Q466.59 514.23 466.72 514.59L466.95 515.25Q467.07 515.61 466.84 516L466.41 516.72Q466.17 517.11 465.79 517.18L465.08 517.31Q464.69 517.37 464.41 516.95L463.9 516.17Q463.62 515.74 463.68 515.33L463.79 514.56Q463.85 514.15 464.33 514.07ZM481.79 515.02Q483.32 514.79 485.14 516.19L488.51 518.78Q490.33 520.19 489.35 520.84L487.54 522.05Q486.57 522.71 484.51 521.87L480.72 520.31Q478.66 519.46 478.35 518.48L477.77 516.67Q477.46 515.69 478.98 515.45ZM492.53 517.73Q492.88 516.82 494.02 516.29L496.11 515.31Q497.25 514.78 498.14 515.56L499.8 517.01Q500.7 517.8 499.25 518.99L496.58 521.18Q495.13 522.37 494.2 521.84L492.47 520.85Q491.53 520.32 491.88 519.41ZM503.29 520.03Q502.92 519.33 504.39 518.35L507.1 516.55Q508.57 515.57 509.6 515.91L511.5 516.52Q512.53 516.86 512.81 517.38L513.32 518.33Q513.6 518.85 512.38 519.55L510.13 520.84Q508.91 521.54 507.71 521.66L505.51 521.89Q504.32 522.01 503.96 521.31ZM515.79 516.38Q516.53 515.29 517.75 515.31L520.03 515.36Q521.25 515.38 522.25 515.76L524.08 516.46Q525.07 516.84 525.25 517.4L525.58 518.45Q525.75 519.02 524.58 519.66L522.41 520.84Q521.24 521.48 519.82 521.18L517.21 520.63Q515.79 520.33 515.25 520.11L514.25 519.7Q513.71 519.48 514.44 518.39ZM514.48 522.96Q514.59 523.51 513.96 523.79L512.79 524.31Q512.16 524.59 511.99 524.2L511.69 523.5Q511.52 523.11 511.82 522.43L512.36 521.17Q512.66 520.48 513.05 520.73L513.78 521.17Q514.18 521.41 514.29 521.96ZM446.02 529.47Q444.88 529.89 443.89 529.67L442.05 529.27Q441.06 529.06 441.09 528.28L441.15 526.85Q441.18 526.07 442.64 525.16L445.33 523.49Q446.8 522.59 448.01 522.65L450.26 522.75Q451.48 522.81 450.9 524.23L449.84 526.85Q449.26 528.27 448.12 528.69ZM453.19 529.33Q453.02 529.47 452.81 529.43L452.43 529.36Q452.22 529.33 451.91 529.07L451.35 528.59Q451.04 528.33 451.08 528.23L451.15 528.04Q451.19 527.94 451.43 527.81L451.89 527.57Q452.13 527.44 452.52 527.54L453.22 527.73Q453.61 527.83 453.62 528.11L453.65 528.63Q453.66 528.91 453.49 529.05ZM454.92 529.13Q453.57 528.99 452.94 528.27L451.79 526.93Q451.17 526.21 451.27 525.58L451.45 524.41Q451.54 523.78 453.36 523.29L456.72 522.4Q458.53 521.92 459.68 522.33L461.8 523.1Q462.95 523.51 462.55 524.24L461.82 525.58Q461.42 526.31 460.72 527.15L459.45 528.7Q458.75 529.54 457.41 529.4ZM465.48 521.84Q465.79 522.1 465.77 522.55L465.72 523.38Q465.69 523.83 465.25 524.06L464.42 524.49Q463.97 524.73 463.71 524.29L463.22 523.47Q462.96 523.03 462.98 522.8L463.01 522.37Q463.03 522.14 463.43 521.87L464.17 521.37Q464.58 521.1 464.89 521.36ZM463.4 526.18Q462.83 525.11 463.95 524.55L466.01 523.51Q467.13 522.94 468.16 523.17L470.05 523.59Q471.07 523.82 471.5 524.43L472.28 525.57Q472.7 526.18 471.5 527.11L469.29 528.81Q468.09 529.74 467.3 529.6L465.83 529.36Q465.03 529.23 464.46 528.16ZM476 529.6Q475.47 529.64 475.45 529.14L475.41 528.21Q475.39 527.71 475.61 527.48L476.02 527.06Q476.24 526.83 476.62 527.04L477.32 527.43Q477.7 527.64 477.65 528.12L477.55 529.01Q477.49 529.5 476.97 529.53ZM478.94 522.74Q480.04 522.05 481.1 522.65L483.06 523.77Q484.12 524.37 484.35 525.32L484.78 527.08Q485.01 528.03 484.22 528.36L482.75 528.99Q481.96 529.32 480.36 528.68L477.4 527.5Q475.8 526.85 475.81 526.29L475.82 525.26Q475.83 524.7 476.92 524.01ZM488.92 526.68Q488.21 525.75 488.75 525.02L489.74 523.67Q490.27 522.94 491.84 523.16L494.72 523.56Q496.28 523.77 496.53 524.99L496.98 527.24Q497.23 528.45 496.68 529.04L495.67 530.12Q495.12 530.7 494.03 530.35L492.01 529.7Q490.92 529.34 490.22 528.41ZM487.69 523.79Q487.14 523.51 487.4 522.94L487.88 521.88Q488.14 521.31 488.83 521.38L490.1 521.5Q490.79 521.57 490.82 522.19L490.89 523.34Q490.93 523.96 490.49 524.12L489.68 524.42Q489.25 524.58 488.7 524.3ZM502.35 523.8Q503.19 523.36 505.02 523.71L508.4 524.37Q510.23 524.73 509.97 525.69L509.48 527.47Q509.21 528.43 507.49 528.39L504.32 528.31Q502.6 528.27 501.92 527.43L500.66 525.89Q499.97 525.06 500.81 524.62ZM512.62 524.05Q512.94 523.72 513.87 523.58L515.58 523.32Q516.5 523.18 517.68 524.16L519.84 525.96Q521.02 526.94 521.06 527.25L521.14 527.83Q521.18 528.15 520.88 529.09L520.32 530.84Q520.01 531.78 519.3 531.42L517.98 530.74Q517.27 530.38 515.82 528.98L513.15 526.4Q511.7 525.01 512.03 524.67ZM521.73 522.5Q521.7 521.99 522.09 521.71L522.8 521.19Q523.18 520.91 523.34 521.09L523.64 521.43Q523.8 521.61 523.94 522.14L524.2 523.12Q524.34 523.65 524.03 523.91L523.47 524.39Q523.17 524.64 522.82 524.46L522.18 524.13Q521.83 523.95 521.8 523.44Z" fill="#c5e6da" stroke="#386659" stroke-width="1.2" stroke-linejoin="round"/>
<rect x="438.5" y="180" width="84.5" height="108.5" fill="#f1f1f4"/>
<path d="M438.5 180V288.6H466M499.5 288.6H522.8V180" fill="none" stroke="#111" stroke-width="2.4"/>
<rect x="432.3" y="172.8" width="95.5" height="6.4" fill="#111"/>
<rect x="434" y="175.4" width="92.2" height="1.3" fill="#f2f2f2"/>
<rect x="466" y="286" width="33" height="85" fill="#fcfcfc"/>
<rect x="466" y="371" width="33" height="135" fill="#abceea"/>
<path d="M466.1 287.5V506.3H499V287.5" fill="none" stroke="#111" stroke-width="2.3"/>
<path d="M465 506H500.2" stroke="#0c1c2a" stroke-width="2.8"/>
<path d="M477.2 288C477.4 320 478.2 350 479.6 378" fill="none" stroke="#26343c" stroke-width="1.1"/>
<path d="M467 371.1H498.5" stroke="#111" stroke-width="1.3"/>
<path d="M483 262V300C483 330 481.6 340 483 380" fill="none" stroke="#0d5f90" stroke-width="6.6"/>
<path d="M483 262V300C483 330 481.6 340 483 380" fill="none" stroke="#1c8fc9" stroke-width="4.6"/>
<path d="M487.6 288C488 330 489.5 350 487.8 381" fill="none" stroke="#8a8f94" stroke-width="0.9"/>
<rect x="480.5" y="245.4" width="458.1" height="5.7" fill="#1c8fc9"/>
<path d="M820 240.6L812 243.8L790 244.2H497C493.5 244.2 492.3 246.5 491.6 253" fill="none" stroke="#10222c" stroke-width="1.5"/>
<path d="M523 251.5H788" stroke="#a6ecf2" stroke-width="0.8" opacity="0.7"/>
<rect x="480.6" y="250" width="6" height="4" fill="#1c8fc9"/>
<g stroke="#555" stroke-width="0.9">
<path d="M462.9 266V259.5a2.9 3.7 0 0 1 5.8 0V266Z" fill="#fafafa"/>
<ellipse cx="465.8" cy="260.8" rx="0.9" ry="2.1" fill="#444" stroke="none"/>
<path d="M494.2 266V259.5a2.9 3.7 0 0 1 5.8 0V266Z" fill="#fafafa"/>
<ellipse cx="497.1" cy="260.8" rx="0.9" ry="2.1" fill="#444" stroke="none"/>
<rect x="478" y="258.5" width="10.5" height="7.5" fill="#fbfbfb"/>
<path d="M476 259.5V254.6L478 252.6H488L490 254.6V259.5Z" fill="#f2f2f2"/>
<path d="M480.3 253V259.3M485.5 253V259.3" fill="none"/>
<path d="M481.5 265.8a2 1.6 0 0 1 4 0" fill="#333" stroke="none"/>
<rect x="488.6" y="260" width="4.6" height="6" fill="#bdbdbd"/>
<rect x="454.6" y="265.8" width="57.3" height="4.5" rx="1" fill="#ececec"/>
<rect x="454.6" y="267.6" width="4.4" height="15" fill="#c9c9c9"/>
<rect x="507.5" y="267.6" width="4.4" height="15" fill="#c9c9c9"/>
<rect x="458.8" y="270.3" width="48.8" height="9" fill="#fcfcfc"/>
<path d="M459 274.8H507.4M460 276.7H506.5" fill="none" stroke="#8c8c8c"/>
<rect x="455.4" y="279.3" width="56" height="3.6" rx="1" fill="#ababab"/>
<rect x="459.3" y="283" width="48" height="3.2" rx="1" fill="#fafafa"/>
</g>
<path d="M486.6 300V377" stroke="#8fd3ee" stroke-width="1" fill="none"/>
<g stroke="#6a6a6a" stroke-width="0.8">
<path d="M478.2 381.6Q478.4 377.4 482.4 377.4T486.6 381.6L489.3 383.8V389H475.6V383.8Z" fill="#f6f6f6"/>
<path d="M475.8 384.6H489.2M475.8 386H489.2M475.8 387.4H489.2" stroke="#888" stroke-width="0.7" fill="none"/>
<rect x="475" y="388.8" width="15" height="88" fill="#fcfcfc"/>
<rect x="475" y="476.6" width="15" height="4.4" fill="#8e8e8e"/>
<path d="M475 481C475.8 485 478 486.6 482.5 486.6S489.2 485 490 481Z" fill="#fff"/>
</g>
<path d="M477.8 484.6V489.6M480.2 485.4V490.4M482.6 485.6V490.6M485 485.4V490.4M487.4 484.6V489.6" stroke="#111" stroke-width="1.3"/>
<path d="M388 185V506M386.4 189.5L388 185L389.6 189.5M386.4 501.5L388 506L389.6 501.5" fill="none" stroke="#2a3f3a" stroke-width="0.9"/>
<path d="M407.2 185V371M405.6 189.5L407.2 185L408.8 189.5M405.6 366.5L407.2 371L408.8 366.5" fill="none" stroke="#2a3f3a" stroke-width="0.9"/>
<path d="M581.3 185V243.5M579.7 189.5L581.3 185L582.9 189.5M579.7 239L581.3 243.5L582.9 239" fill="none" stroke="#2a3f3a" stroke-width="0.9"/>
<path d="M407.4 490V506M406 493.5L407.4 490L408.8 493.5M406 502.5L407.4 506L408.8 502.5" fill="none" stroke="#2a3f3a" stroke-width="0.9"/>
<path d="M406.5 371H466" stroke="#2a3f3a" stroke-width="0.9"/>
<path d="M386 506H466M406.5 490H477" stroke="#2a3f3a" stroke-width="0.9"/>
<path d="M407.5 506L438.3 531.6H601" fill="none" stroke="#2a3f3a" stroke-width="0.9"/>
<path d="M487.5 167.8H788M492.5 166.2L487.5 167.8L492.5 169.4M784 166.3L788 167.8L784 169.3" fill="none" stroke="#222" stroke-width="0.8"/>
<text x="384.5" y="161.8" font-family="'Liberation Sans', sans-serif" font-size="9" fill="#333" style="white-space:pre" textLength="30" lengthAdjust="spacingAndGlyphs">кессон</text>
<path d="M383 164.3H427L475 188.8" fill="none" stroke="#222" stroke-width="0.7"/>
<text x="533" y="161.5" font-family="'Liberation Sans', sans-serif" font-size="9" fill="#333" style="white-space:pre" textLength="126" lengthAdjust="spacingAndGlyphs">горизонтальный  участок,  S</text>
<text x="590" y="221.8" font-family="'Liberation Sans', sans-serif" font-size="9" fill="#333" style="white-space:pre" textLength="134.5" lengthAdjust="spacingAndGlyphs">трубопровод  прокладывается</text>
<text x="590" y="233.2" font-family="'Liberation Sans', sans-serif" font-size="9" fill="#333" style="white-space:pre" textLength="182" lengthAdjust="spacingAndGlyphs">под  землю  ниже  глубины  промерзания</text>
<path d="M590.5 244V236.6H772.5" fill="none" stroke="#222" stroke-width="0.7"/>
<text x="532.5" y="322.5" font-family="'Liberation Sans', sans-serif" font-size="9" fill="#333" style="white-space:pre" textLength="42.5" lengthAdjust="spacingAndGlyphs">скважина</text>
<path d="M575.5 324.7H532L491 331" fill="none" stroke="#444" stroke-width="0.7"/>
<text x="534" y="352.8" font-family="'Liberation Sans', sans-serif" font-size="9" fill="#333" style="white-space:pre" textLength="72" lengthAdjust="spacingAndGlyphs">обсадная  труба</text>
<path d="M606 355.6H533L500 359.5" fill="none" stroke="#444" stroke-width="0.7"/>
<path d="M611 361.4H578L490 381.5" fill="none" stroke="#444" stroke-width="0.7"/>
<text x="530" y="495" font-family="'Liberation Sans', sans-serif" font-size="9" fill="#333" style="white-space:pre" textLength="60.5" lengthAdjust="spacingAndGlyphs">минимальное</text>
<text x="530" y="506" font-family="'Liberation Sans', sans-serif" font-size="9" fill="#333" style="white-space:pre" textLength="51.5" lengthAdjust="spacingAndGlyphs">расстояние</text>
<text x="530" y="517" font-family="'Liberation Sans', sans-serif" font-size="9" fill="#333" style="white-space:pre" textLength="61" lengthAdjust="spacingAndGlyphs">насоса  от  дна</text>
<text x="530" y="528" font-family="'Liberation Sans', sans-serif" font-size="9" fill="#333" style="white-space:pre" textLength="62" lengthAdjust="spacingAndGlyphs">скважины  1м</text>
<text transform="translate(383,325) rotate(-90)" font-family="'Liberation Sans', sans-serif" font-size="9" fill="#333" style="white-space:pre" textLength="86" lengthAdjust="spacingAndGlyphs">общая  глубина,  H2</text>
<text transform="translate(404.6,325) rotate(-90)" font-family="'Liberation Sans', sans-serif" font-size="9" fill="#333" style="white-space:pre" textLength="125" lengthAdjust="spacingAndGlyphs">динамический  уровень,  H1</text>
<text x="583" y="272.6" font-family="'Liberation Sans', sans-serif" font-weight="bold" font-size="14.7" fill="#0a0a0a" stroke="#0a0a0a" stroke-width="0.6" textLength="9.5" lengthAdjust="spacingAndGlyphs">8</text><path d="M508 275H593" stroke="#1d5571" stroke-width="1.6"/>
<text x="569.5" y="302.3" font-family="'Liberation Sans', sans-serif" font-weight="bold" font-size="14.7" fill="#0a0a0a" stroke="#0a0a0a" stroke-width="0.6" textLength="9" lengthAdjust="spacingAndGlyphs">5</text><path d="M488 304.2H579" stroke="#1d5571" stroke-width="1.6"/>
<text x="415.2" y="333.9" font-family="'Liberation Sans', sans-serif" font-weight="bold" font-size="14.7" fill="#0a0a0a" stroke="#0a0a0a" stroke-width="0.6" textLength="9.8" lengthAdjust="spacingAndGlyphs">4</text><path d="M415.4 335H481" stroke="#1d5571" stroke-width="1.6"/>
<text x="419.6" y="363.9" font-family="'Liberation Sans', sans-serif" font-weight="bold" font-size="14.7" fill="#0a0a0a" stroke="#0a0a0a" stroke-width="0.6" textLength="9.6" lengthAdjust="spacingAndGlyphs">7</text><path d="M420.6 366H478.5" stroke="#1d5571" stroke-width="1.6"/>
<text x="549.5" y="451" font-family="'Liberation Sans', sans-serif" font-weight="bold" font-size="14.7" fill="#0a0a0a" stroke="#0a0a0a" stroke-width="0.6" textLength="8.5" lengthAdjust="spacingAndGlyphs">1</text><path d="M490 453.2H557.5" stroke="#1d5571" stroke-width="1.6"/>
<!-- b_house -->
<g fill="none" stroke="#e9473c" stroke-width="4.4" stroke-linejoin="miter">
<path d="M841.7 144V160.9H891.5V201.3H991.8V131"/>
<path d="M928.5 135V201.3"/>
</g>
<g fill="none" stroke="#1c8fc9" stroke-width="4.4" stroke-linejoin="miter">
<path d="M772.8 152.2H833.3"/>
<path d="M833.3 144V170.3H883.4V211.3H1000.8V131"/>
<path d="M936.4 135V251.4"/>
</g>
<rect x="790" y="182.6" width="234" height="6" fill="url(#hatch)"/>
<path d="M790 182.1H1024M790 188.9H1024" stroke="#111" stroke-width="1.5"/>
<g fill="none" stroke-width="4.4">
<path d="M883.4 180V191M936.4 180V191M1000.8 180V191" stroke="#1c8fc9"/>
<path d="M891.5 180V191M928.5 180V191M991.8 180V191" stroke="#e9473c"/>
</g>
<rect x="788.4" y="0" width="3.8" height="290" fill="#111"/>
<rect x="788.4" y="287" width="236" height="3.2" fill="#111"/>
<path d="M818.5 57.2H846.5Q854.6 57.2 854.6 65.5V134Q854.6 144.3 844 144.3H821Q810.3 144.3 810.3 134V65.5Q810.3 57.2 818.5 57.2Z" fill="#fff" stroke="#111" stroke-width="1.5"/>
<path d="M812.5 141H852.5" stroke="#999" stroke-width="0.7"/>
<ellipse cx="853.8" cy="79" rx="2" ry="3" fill="#fff" stroke="#333" stroke-width="0.8"/>
<rect x="851.8" y="121.6" width="5" height="3.2" rx="0.8" fill="#fff" stroke="#333" stroke-width="0.8"/>
<g fill="#fff" stroke="#333" stroke-width="0.9" stroke-linejoin="round">
<rect x="761.1" y="141.4" width="6.8" height="1.7" rx="0.8"/>
<path d="M763.5 143.1H766.1V146.1H767.6V148.2H766.2V150H763.4V148.2H761.8V146.1H763.5Z"/>
<path d="M757 156.6V151.2Q757 150 758.2 150H770.3V155.1H760.2V156.6Z"/>
<path d="M770.3 148.6L772.9 150.4V154L770.3 155.8Z" fill="#8aa"/>
</g>
<path d="M756.1 159L753.6 162.6M756 163L754.2 165.6M761 159L763.5 162.6M760.7 163L762.5 165.6" stroke="#333" stroke-width="1" fill="none"/>
<path d="M907.1 182V56.8H954.9V182" fill="none" stroke="#111" stroke-width="2.4"/>
<path d="M932.3 131V65.7H919" fill="none" stroke="#333" stroke-width="0.9"/>
<rect x="914.6" y="64.5" width="7.6" height="2.4" rx="1.2" fill="#eee" stroke="#333" stroke-width="0.8"/>
<path d="M916.4 69L914.6 71.6M920.4 69L922.2 71.6M915 73L913.4 75.6M921.8 73L923.6 75.6" stroke="#333" stroke-width="0.9"/>
<ellipse cx="927.7" cy="132" rx="3" ry="2.2" transform="rotate(35 927.7 132)" fill="#f3b1a8" stroke="#8a3a32" stroke-width="0.9"/>
<ellipse cx="937" cy="132" rx="3" ry="2.2" transform="rotate(-35 937 132)" fill="#b5e1f2" stroke="#1f5f7a" stroke-width="0.9"/>
<path d="M979.2 182V131.2H1014.6V182" fill="none" stroke="#111" stroke-width="1.9"/>
<path d="M995.8 131V116Q995.8 110.8 999.6 110.8Q1002.6 110.8 1004.6 114.6L1007 119.2" fill="none" stroke="#333" stroke-width="4.6" stroke-linecap="round"/>
<path d="M995.8 131V116Q995.8 110.8 999.6 110.8Q1002.6 110.8 1004.6 114.6L1007 119.2" fill="none" stroke="#fff" stroke-width="2.9" stroke-linecap="round"/>
<ellipse cx="990.2" cy="127.2" rx="3.4" ry="2.4" transform="rotate(-35 990.2 127.2)" fill="#f3b1a8" stroke="#8a3a32" stroke-width="0.9"/>
<ellipse cx="1002.8" cy="126.6" rx="3.4" ry="2.4" transform="rotate(-50 1002.8 126.6)" fill="#b5e1f2" stroke="#1f5f7a" stroke-width="0.9"/>
<g fill="#fdfdfd" stroke="#333" stroke-width="0.9">
<path d="M838 205.5H868Q877 206.5 877 221T868 236.5H838Q830.3 234 830.3 221T838 205.5Z"/>
<path d="M845 205.6Q841.5 221 845 236.4M858 205.6Q855 221 858 236.4" fill="none"/>
<ellipse cx="833.3" cy="221" rx="2.6" ry="9" fill="#eee"/>
<ellipse cx="831.6" cy="221" rx="1.3" ry="5" fill="#333" stroke="none"/>
<path d="M842 205.6L842.6 208.5H847.4L848 205.6M862 205.6L862.6 208.5H866.4L867 205.6" fill="#fff"/>
<path d="M840 236.4L839.4 238.6H846L845.4 236.4M865 236.4L864.4 238.6H871L870.4 236.4" fill="#fff"/>
<path d="M823.5 245V223Q823.5 219.8 826.7 219.8H830.5V222.6H827.3Q826.3 222.6 826.3 223.6V245Z"/>
<ellipse cx="821" cy="239.4" rx="3.4" ry="3.2"/>
<path d="M835.5 245V241Q835.5 238.8 838 238.8H845V240.6H839Q837.6 240.6 837.6 242V245Z"/>
<rect x="826.5" y="235.5" width="5" height="9" rx="1"/>
</g><g fill="#fdfdfd" stroke="#9db3ad" stroke-width="0.6">
<rect x="801.6" y="243.8" width="12" height="9" rx="4"/>
<rect x="818.6" y="243.8" width="11.4" height="9" rx="4"/>
<rect x="833" y="243.8" width="13.8" height="9" rx="4"/>
<rect x="850.3" y="243.8" width="8.8" height="9" rx="4"/>
<rect x="885.5" y="243.8" width="13.5" height="9" rx="4"/>
<path d="M822 246L826.4 250.6M826.4 246L822 250.6" stroke="#2a5f85" stroke-width="1.1"/>
<rect x="865.5" y="244.7" width="17.5" height="12.9" rx="1.5"/>
<path d="M867.6 257.6H880.8V282.8Q880.8 285.5 878 285.5H870.4Q867.6 285.5 867.6 282.8Z"/>
</g>
<!-- b_inset1 -->
<rect x="611" y="299.6" width="64.8" height="218.4" fill="#fdfdfd" stroke="#222" stroke-width="0.9"/>
<clipPath id="in1"><rect x="611.4" y="300" width="64" height="217.6"/></clipPath>
<g clip-path="url(#in1)">
<rect x="661.9" y="299" width="3.2" height="159" fill="url(#hatch2)" stroke="#666" stroke-width="0.7"/>
<rect x="629" y="299" width="27.6" height="20" fill="#1c8fc9"/>
<path d="M656.4 300V318" stroke="#7fd0ee" stroke-width="1.2"/>
<g fill="#fbfbfb" stroke="#333" stroke-width="0.95" stroke-linejoin="round">
<path d="M630 318.2Q643 315.2 656 318.2L660.2 327.6V328.6H625.8V327.6Z"/>
<path d="M627.5 324.6Q643 321.6 658.6 324.6" fill="none" stroke="#999"/>
<rect x="624.3" y="328.6" width="37.5" height="4.2" rx="1.2"/>
<rect x="623.4" y="332.8" width="39" height="19.8"/>
<rect x="620.2" y="334.5" width="3.2" height="17" rx="1" fill="#cfcfcf"/>
<rect x="662.4" y="334.5" width="2.6" height="17" rx="1" fill="#cfcfcf"/>
<path d="M632.2 333V352.4M634.6 333V352.4M652.6 333V352.4M655 333V352.4" fill="none"/>
<rect x="635.6" y="335" width="16" height="15.6" fill="#fff"/>
<rect x="623.6" y="352.6" width="38.6" height="3.8" rx="1.2"/>
<rect x="625" y="357" width="35.3" height="7.2" rx="1"/>
<path d="M629.6 357V364.2M644 357V364.2M658 357V364.2" fill="none"/>
<rect x="631" y="358.4" width="11.6" height="4.6" fill="#fff" stroke="#888"/>
<rect x="645.4" y="358.4" width="11.4" height="4.6" fill="#fff" stroke="#888"/>
<path d="M625.4 364.2H660L656.2 370.2H629.6Z"/>
<rect x="630.6" y="370.2" width="24.4" height="13.6"/>
<path d="M630 372.6H655.6M630 375.4H655.6M630 378.2H655.6M630 381H655.6" fill="none" stroke="#777" stroke-width="1.1"/>
<path d="M630.4 389.8H655.2L656.6 391.4V397.4H629V391.4Z"/>
<path d="M633.4 390V397.2M652.2 390V397.2" fill="none"/>
<rect x="627.4" y="397.4" width="30.8" height="19.8" rx="1.2"/>
<path d="M630 418H656.4V424.4L655 426H631.4L630 424.4Z"/>
<path d="M634 418V425.8M652.4 418V425.8" fill="none"/>
<rect x="632.4" y="433.4" width="21.6" height="10.8"/>
<path d="M631.8 436H654.6M631.8 438.8H654.6M631.8 441.6H654.6" fill="none" stroke="#777" stroke-width="1.1"/>
<rect x="632.4" y="450.6" width="21.6" height="10"/>
<path d="M631.8 453.4H654.6M631.8 456.2H654.6M631.8 459H654.6" fill="none" stroke="#777" stroke-width="1.1"/>
<path d="M630.6 444H655.8L657.2 445.4V449.4L655.8 450.8H630.6L629.2 449.4V445.4Z"/>
<path d="M633.8 444V450.8M652.6 444V450.8" fill="none"/>
<path d="M631 466.8H654L655.6 468.4V487H629.2V468.4Z"/>
<path d="M633.6 470V486.8M651.4 470V486.8" fill="none"/>
<path d="M629.4 468.6Q642.4 471.4 655.4 468.6" fill="none" stroke="#888"/>
<path d="M626 487H658.8Q660.4 490.5 663 492.6Q667.6 496 667.6 502V520H618.6V502Q618.6 496 623.2 492.6Q625 490.5 626 487Z"/>
<path d="M624.4 491.2H662M621.6 494.6H664.8M619.6 498.4H666.8M618.8 502H667.4M619 505.6H667.2" fill="none" stroke="#777"/>
<path d="M621.2 507V519M665 507V519" fill="none" stroke="#aaa"/>
</g>
<path d="M643 416V405M640 416.4H646" stroke="#1c8fc9" stroke-width="2" fill="none"/><path d="M643 401L646.4 406.4H639.6Z" fill="#1c8fc9"/>
<path d="M622.8 299V345C622.8 380 625.3 400 625.3 440C625.3 470 624.2 483 627 486.4Q628.4 488 630 487.6" fill="none" stroke="#141414" stroke-width="2.3"/>
<path d="M663.4 467.6C663 472 661.4 474 659 476C656.8 478 656.6 481 657.8 484L659.6 487.6" fill="none" stroke="#555" stroke-width="2.6"/>
<path d="M663.4 467.6C663 472 661.4 474 659 476C656.8 478 656.6 481 657.8 484L659.6 487.6" fill="none" stroke="#fff" stroke-width="1.2"/>
<circle cx="663.6" cy="462" r="4.4" fill="none" stroke="#444" stroke-width="3"/>
<circle cx="663.6" cy="462" r="4.4" fill="none" stroke="#fff" stroke-width="1.4"/>
</g>
<text x="575" y="407.2" font-family="'Liberation Sans', sans-serif" font-weight="bold" font-size="14.7" fill="#0a0a0a" stroke="#0a0a0a" stroke-width="0.6" textLength="9.3" lengthAdjust="spacingAndGlyphs">3</text><path d="M575 409.6H629" stroke="#1d5571" stroke-width="1.6"/>
<text x="589" y="444" font-family="'Liberation Sans', sans-serif" font-weight="bold" font-size="14.7" fill="#0a0a0a" stroke="#0a0a0a" stroke-width="0.6" textLength="9.3" lengthAdjust="spacingAndGlyphs">2</text><path d="M589 446.2H631" stroke="#1d5571" stroke-width="1.6"/>
<text x="682" y="461" font-family="'Liberation Sans', sans-serif" font-weight="bold" font-size="14.7" fill="#0a0a0a" stroke="#0a0a0a" stroke-width="0.6" textLength="9.3" lengthAdjust="spacingAndGlyphs">6</text><path d="M668.6 462.9H692.6" stroke="#1d5571" stroke-width="1.6"/>
<!-- b_inset2 -->
<rect x="695.8" y="300" width="330" height="217.3" fill="#fdfdfd" stroke="#50605c" stroke-width="0.8"/>
<clipPath id="in2"><rect x="696.8" y="300.5" width="328" height="216"/></clipPath>
<g clip-path="url(#in2)">
<rect x="696" y="379.5" width="330" height="16.8" fill="#1c8fc9"/>
<rect x="696" y="379.5" width="330" height="1.6" fill="#5fb6e0"/>
<g fill="#fbfbfb" stroke="#2c2c2c" stroke-width="0.95" stroke-linejoin="round">
<path d="M806.4 296C806.8 322 817 341.5 835 347.3H937C950 341 957.6 322 958 296Z"/>
<path d="M819.8 296C819.5 318 817 328 812.6 331.6M829.6 296C829.2 318 826 331 817.4 335.8" fill="none" stroke="#444" stroke-width="0.8"/>
<path d="M848.8 296C847 318 845.5 332 842.4 341M893.6 296C893 318 890 336 886.2 347M944 296C944 318 941.5 334 937.6 346" fill="none" stroke="#555" stroke-width="0.7"/>
<path d="M822.8 351.2L825.3 348.2H840.8L844.8 340.8H857.8L861.8 348.2H863.3L864.8 351.2Z"/>
<path d="M840.8 348.2H861.8" fill="none" stroke="#777"/>
<path d="M899.2 351.2L901.7 348.2H917.2L921.2 340.8H934.2L938.2 348.2H939.7L941.2 351.2Z"/>
<path d="M917.2 348.2H938.2" fill="none" stroke="#777"/>
<path d="M802.6 296Q802.4 312 804.2 318M808 296Q808.4 311 810 318.4M813.6 296Q813.4 310 811.4 317" fill="none" stroke="#333" stroke-width="0.9"/>
<circle cx="804.2" cy="319.6" r="1.7" fill="#555" stroke="#222"/><circle cx="810.2" cy="320.2" r="1.7" fill="#555" stroke="#222"/>
<path d="M782.8 376V306Q782.8 298 790 298H801V304.6H794Q791.6 304.6 791.6 307V376Z"/>
<path d="M794.8 298V304.6" fill="none"/>
<rect x="781.7" y="314.8" width="11" height="9.8" rx="0.8"/>
<path d="M785.2 319.5H786.8" fill="none" stroke="#555"/>
<path d="M792.8 345.6Q793 344 795 344H806Q808.4 344 809.4 346L811.6 364V370.4Q811.6 372.4 809.6 372.4H790.6Q788.7 372.4 788.7 370.4V366Z" fill="#f6f6f6"/>
<path d="M806.2 344.4L811.4 366V371.6L806.6 366.6Z" fill="#444" stroke="none"/>
<path d="M798 345L789.4 366.6H806.6Z" fill="#fff"/>
<path d="M789.2 367.4H806.6L811 371.8H789.2Z" fill="#5a5a5a" stroke="none"/>
<path d="M790 369.4H808" fill="none" stroke="#ddd" stroke-width="0.6"/>
<rect x="780.4" y="366" width="4.6" height="11" fill="#eee"/>
<circle cx="773.1" cy="363.3" r="10.8" stroke="#1a1a1a" stroke-width="1.5"/>
<circle cx="773.1" cy="363.3" r="8.9" fill="#fff" stroke="#777" stroke-width="0.6"/>
</g>
<path d="M768.42 366L766.35 367.2M767.7 363.3L765.3 363.3M768.42 360.6L766.35 359.4M770.4 358.62L769.2 356.55M773.1 357.9L773.1 355.5M775.8 358.62L777 356.55M777.78 360.6L779.85 359.4M778.5 363.3L780.9 363.3M777.78 366L779.85 367.2" stroke="#222" stroke-width="1"/>
<path d="M773.1 364.6V356" stroke="#111" stroke-width="1.5"/><circle cx="773.1" cy="364" r="1.3" fill="#111"/>
<g fill="#fbfbfb" stroke="#2c2c2c" stroke-width="0.95" stroke-linejoin="round">
<g stroke="#222" stroke-width="1"><path d="M713.6 377.6H722.2V398.6H713.6Q712.2 398.6 712.2 397V379.2Q712.2 377.6 713.6 377.6Z" stroke="#555" stroke-width="0.8"/><rect x="751.2" y="380.4" width="8" height="15" rx="1" fill="#6a6a6a"/><path d="M753.2 381V395M755.2 381V395M757.2 381V395" fill="none" stroke="#2a2a2a" stroke-width="0.9"/><path d="M739.2 374.8H748.6Q751.6 375.4 751.6 378.4V398.4Q751.6 401.4 748.6 402H739.2Z" fill="#3c3c3c"/><rect x="741.8" y="376.4" width="7" height="4.8" rx="0.8" fill="#c8c8c8" stroke="none"/><rect x="742.2" y="383.8" width="7.4" height="5.2" fill="#fff" stroke="none"/><rect x="742.2" y="391.8" width="7.4" height="6.2" fill="#fff" stroke="none"/><path d="M720.2 377Q721.2 374 724.2 373.4H737.2Q739.8 373.8 739.8 376.4V400Q739.8 402.6 737.2 403H724.2Q721.2 402.4 720.2 399.4Z" fill="#fafafa"/><path d="M723.6 373.8Q721.8 388 723.6 402.6M726.2 373.6Q724.6 388 726.2 402.8" fill="none" stroke="#444" stroke-width="0.8"/><path d="M727.2 374H739.2V378.4H727.8Z" fill="#777" stroke="none"/><path d="M727.8 378.6H739.4M727.6 397.4H739.4" fill="none" stroke="#222" stroke-width="1"/><rect x="727.6" y="385.6" width="11.8" height="3.2" fill="#444" stroke="none"/></g>
<g transform="translate(2032.8 0) scale(-1 1)" stroke="#222" stroke-width="1"><path d="M1017.8 377.6H1026.4V398.6H1017.8Q1016.4 398.6 1016.4 397V379.2Q1016.4 377.6 1017.8 377.6Z" stroke="#555" stroke-width="0.8"/><rect x="1055.4" y="380.4" width="8" height="15" rx="1" fill="#6a6a6a"/><path d="M1057.4 381V395M1059.4 381V395M1061.4 381V395" fill="none" stroke="#2a2a2a" stroke-width="0.9"/><path d="M1043.4 374.8H1052.8Q1055.8 375.4 1055.8 378.4V398.4Q1055.8 401.4 1052.8 402H1043.4Z" fill="#3c3c3c"/><rect x="1046" y="376.4" width="7" height="4.8" rx="0.8" fill="#c8c8c8" stroke="none"/><rect x="1046.4" y="383.8" width="7.4" height="5.2" fill="#fff" stroke="none"/><rect x="1046.4" y="391.8" width="7.4" height="6.2" fill="#fff" stroke="none"/><path d="M1024.4 377Q1025.4 374 1028.4 373.4H1041.4Q1044 373.8 1044 376.4V400Q1044 402.6 1041.4 403H1028.4Q1025.4 402.4 1024.4 399.4Z" fill="#fafafa"/><path d="M1027.8 373.8Q1026 388 1027.8 402.6M1030.4 373.6Q1028.8 388 1030.4 402.8" fill="none" stroke="#444" stroke-width="0.8"/><path d="M1031.4 374H1043.4V378.4H1032Z" fill="#777" stroke="none"/><path d="M1032 378.6H1043.6M1031.8 397.4H1043.6" fill="none" stroke="#222" stroke-width="1"/><rect x="1031.8" y="385.6" width="11.8" height="3.2" fill="#444" stroke="none"/></g>
<rect x="766.8" y="378.2" width="8.2" height="17.6" rx="1"/>
<rect x="796.2" y="378.2" width="8.2" height="17.6" rx="1"/>
<rect x="774.8" y="380.6" width="21.6" height="13.6" rx="1"/>
<path d="M777.6 376.2H794V380Q794 381.6 792 381.6H779.6Q777.6 381.6 777.6 380Z"/>
<path d="M780 378.8Q785.8 381 791.8 378.8" fill="none" stroke="#222" stroke-width="1.2"/>
<rect x="782.6" y="394.2" width="6.8" height="5.4" rx="0.6"/>
<circle cx="788.6" cy="387.2" r="2.5" fill="#ddd"/><circle cx="788.6" cy="387.2" r="1.1" fill="#333" stroke="none"/>
<rect x="809.2" y="378" width="9.6" height="18" rx="1"/>
<path d="M822.8 362.8V358.6L826 357.4H848.4L848.8 359.4L836 361.2Q833 362 831.8 364V375.6H822.8Z"/>
<path d="M824 364.6H831.6" fill="none" stroke="#777"/>
<path d="M824.6 378Q833 374.6 842.6 378V399Q833 402.6 824.6 399Z"/>
<rect x="818.4" y="376.2" width="6.4" height="24.2" rx="1.2"/>
<path d="M820.4 376.4V400.2M822.6 376.4V400.2" fill="none" stroke="#777"/>
<path d="M842.6 377.8H856Q858.2 377.8 858.2 380V396Q858.2 398.2 856 398.2H842.6Z"/>
<path d="M845.6 378V398M848 378V398M854.6 378V398" fill="none" stroke="#777"/>
<rect x="867.4" y="379" width="23" height="17.4" rx="1.2" fill="#eee"/>
<rect x="874" y="378" width="7.6" height="19.4" rx="1"/>
<path d="M869.4 379.4V396M871.6 379.4V396M876.4 378.4V397M879 378.4V397M883.6 379.4V396M885.8 379.4V396M888 379.4V396" fill="none" stroke="#444" stroke-width="0.9"/>
<path d="M909.3 419.6H952.9L949.6 499Q950.6 501 950.6 503V508Q950.6 511.6 946.6 511.6H915.8Q911.8 511.6 911.8 508V503Q911.8 501 912.8 499Z"/>
<path d="M912.8 499H949.6M912 502.6H950.4" fill="none" stroke="#777"/>
<path d="M918.6 502.8V511.4M921.2 502.8V511.4M929.8 502.8V511.4M932.4 502.8V511.4M941.2 502.8V511.4M943.8 502.8V511.4" fill="none" stroke="#666"/>
<path d="M916.2 421.6H946.8V485Q946.8 489.4 942.4 489.4H920.6Q916.2 489.4 916.2 485Z" fill="url(#mesh)" stroke="#333"/>
<path d="M905.2 398H957.8Q959.4 398 959.4 399.8V417.4Q959.4 419.6 957.4 419.6H905.6Q903.6 419.6 903.6 417.4V399.8Q903.6 398 905.2 398Z"/>
<rect x="904.2" y="410" width="54.6" height="9" fill="url(#ribs)" stroke="none"/>
<path d="M906.6 410.4V403.8Q906.6 402.2 908.2 402.2H915.8Q917.4 402.2 917.4 403.8V410.4Z" fill="#fff"/>
<path d="M920.4 410.4V403.8Q920.4 402.2 922 402.2H939.8Q941.4 402.2 941.4 403.8V410.4Z" fill="#fff"/>
<path d="M944.4 410.4V403.8Q944.4 402.2 946 402.2H954.8Q956.4 402.2 956.4 403.8V410.4Z" fill="#fff"/>
<path d="M904.8 376.8H958.6Q960.4 376.8 960.4 378.6V398H903V378.6Q903 376.8 904.8 376.8Z"/>
<rect x="906.6" y="378" width="50.4" height="14.2" fill="url(#ribs2)" stroke="#222"/>
<path d="M903.2 393.4H960.2" fill="none" stroke="#555"/>
</g>
</g>
<text x="718.6" y="314.4" font-family="'Liberation Sans', sans-serif" font-weight="bold" font-size="14.7" fill="#0a0a0a" stroke="#0a0a0a" stroke-width="0.6" textLength="19.2" lengthAdjust="spacingAndGlyphs">12</text>
<path d="M721.4 316.8H782" stroke="#1f2c33" stroke-width="1.2" fill="none"/>
<text x="743.6" y="336.1" font-family="'Liberation Sans', sans-serif" font-weight="bold" font-size="14.7" fill="#0a0a0a" stroke="#0a0a0a" stroke-width="0.6" textLength="19.6" lengthAdjust="spacingAndGlyphs">10</text>
<path d="M747 338.3H799.2V344" stroke="#1f2c33" stroke-width="1.2" fill="none"/>
<text x="721.4" y="361.7" font-family="'Liberation Sans', sans-serif" font-weight="bold" font-size="14.7" fill="#0a0a0a" stroke="#0a0a0a" stroke-width="0.6" textLength="18" lengthAdjust="spacingAndGlyphs">11</text>
<path d="M724.8 363.7H761.6" stroke="#1f2c33" stroke-width="1.2" fill="none"/>
<text x="978.6" y="337" font-family="'Liberation Sans', sans-serif" font-weight="bold" font-size="14.7" fill="#0a0a0a" stroke="#0a0a0a" stroke-width="0.6" textLength="19.4" lengthAdjust="spacingAndGlyphs">13</text>
<path d="M950 339.2H997.4" stroke="#1d5571" stroke-width="1.3" fill="none"/>
<text x="730.8" y="430.1" font-family="'Liberation Sans', sans-serif" font-weight="bold" font-size="14.7" fill="#0a0a0a" stroke="#0a0a0a" stroke-width="0.6" textLength="20" lengthAdjust="spacingAndGlyphs">16</text>
<path d="M728.2 401.5V432.6H750.4" stroke="#1d5571" stroke-width="1.3" fill="none"/>
<text x="801.6" y="416.4" font-family="'Liberation Sans', sans-serif" font-weight="bold" font-size="14.7" fill="#0a0a0a" stroke="#0a0a0a" stroke-width="0.6" textLength="9.8" lengthAdjust="spacingAndGlyphs">9</text>
<path d="M785.8 399.8V419.2H812.4" stroke="#1d5571" stroke-width="1.3" fill="none"/>
<text x="842.2" y="421.2" font-family="'Liberation Sans', sans-serif" font-weight="bold" font-size="14.7" fill="#0a0a0a" stroke="#0a0a0a" stroke-width="0.6" textLength="20" lengthAdjust="spacingAndGlyphs">14</text>
<path d="M832.2 401.4V423.6H862.6" stroke="#1d5571" stroke-width="1.3" fill="none"/>
<text x="871.2" y="478.8" font-family="'Liberation Sans', sans-serif" font-weight="bold" font-size="14.7" fill="#0a0a0a" stroke="#0a0a0a" stroke-width="0.6" textLength="20" lengthAdjust="spacingAndGlyphs">15</text>
<path d="M872 481H913" stroke="#1d5571" stroke-width="1.3" fill="none"/>
<!-- b_text -->
<g font-family="'DejaVu Sans Condensed', 'DejaVu Sans', 'Liberation Sans', sans-serif" font-weight="bold" font-size="26" fill="#0a0a0a" text-anchor="middle">
<text x="167.3" y="102.2" textLength="136.5" lengthAdjust="spacingAndGlyphs">Комплект</text>
<text x="166" y="133" textLength="53" lengthAdjust="spacingAndGlyphs">для</text>
<text x="171.3" y="164" textLength="300" lengthAdjust="spacingAndGlyphs">водоснабжения дома</text>
</g>
<g font-family="'DejaVu Sans', 'Liberation Sans', sans-serif" font-weight="bold" font-size="16" fill="#0a0a0a">
<text x="3.4" y="211.25" textLength="201.6" lengthAdjust="spacingAndGlyphs">1. Скважинный насос</text>
<text x="3.4" y="232.5" textLength="103.3" lengthAdjust="spacingAndGlyphs">2. Ниппель</text>
<text x="3.4" y="253.75" textLength="188.4" lengthAdjust="spacingAndGlyphs">3. Обратный клапан</text>
<text x="3.4" y="275" textLength="167.1" lengthAdjust="spacingAndGlyphs">4. Труба питьевая</text>
<text x="3.4" y="296.25" textLength="290.7" lengthAdjust="spacingAndGlyphs">5. Трос из нержавеющей стали</text>
<text x="3.4" y="317.5" textLength="196" lengthAdjust="spacingAndGlyphs">6. Зажимы для троса</text>
<text x="3.4" y="338.75" textLength="89.1" lengthAdjust="spacingAndGlyphs">7. Кабель</text>
<text x="3.4" y="360" textLength="111.5" lengthAdjust="spacingAndGlyphs">8. Оголовок</text>
<text x="3.4" y="381.25" textLength="238.3" lengthAdjust="spacingAndGlyphs">9. Штуцер 5-ти выводной</text>
<text x="3.4" y="402.5" textLength="172" lengthAdjust="spacingAndGlyphs">10. Реле давления</text>
<text x="3.4" y="423.75" textLength="127.8" lengthAdjust="spacingAndGlyphs">11. Манометр</text>
<text x="3.4" y="445" textLength="192.3" lengthAdjust="spacingAndGlyphs">12. Гибкая подводка</text>
<text x="3.4" y="466.25" textLength="194.2" lengthAdjust="spacingAndGlyphs">13. Мембранный бак</text>
<text x="3.4" y="487.5" textLength="172" lengthAdjust="spacingAndGlyphs">14. Шаровый кран</text>
<text x="3.4" y="508.75" textLength="352.5" lengthAdjust="spacingAndGlyphs">15. Фильтр предварительной очистки</text>
<text x="3.4" y="530" textLength="260.9" lengthAdjust="spacingAndGlyphs">16. Муфты соединительные</text>
</g>
<text x="98.4" y="565" font-family="'DejaVu Sans', 'Liberation Sans', sans-serif" font-weight="bold" font-size="15.5" fill="#b9b9b9" textLength="828" lengthAdjust="spacingAndGlyphs">Схема монтажа может изменяться в зависимости от условий установки и предпочтений.</text>
</svg>
</body></html>
